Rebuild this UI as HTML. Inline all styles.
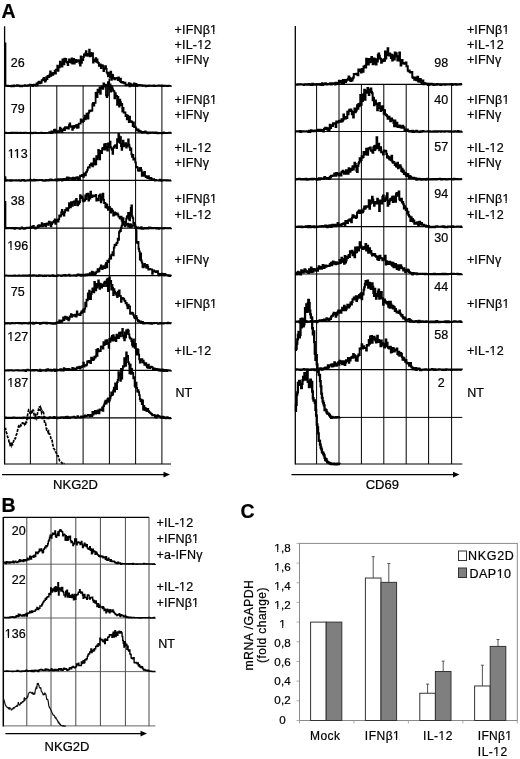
<!DOCTYPE html>
<html><head><meta charset="utf-8"><style>
html,body{margin:0;padding:0;background:#fff;width:520px;height:759px;overflow:hidden;font-family:"Liberation Sans", sans-serif;}
</style></head><body>
<svg width="520" height="759" viewBox="0 0 520 759" style="position:absolute;left:0;top:0;will-change:transform">
<line x1="4.6" y1="26.3" x2="4.6" y2="464.5" stroke="#000" stroke-width="1.3"/>
<line x1="30.4" y1="85.8" x2="30.4" y2="464.0" stroke="#000" stroke-width="1.0"/>
<line x1="56.8" y1="85.8" x2="56.8" y2="464.0" stroke="#000" stroke-width="1.0"/>
<line x1="83.1" y1="85.8" x2="83.1" y2="464.0" stroke="#000" stroke-width="1.0"/>
<line x1="109.4" y1="85.8" x2="109.4" y2="464.0" stroke="#000" stroke-width="1.0"/>
<line x1="135.6" y1="85.8" x2="135.6" y2="464.0" stroke="#000" stroke-width="1.0"/>
<line x1="161.9" y1="85.8" x2="161.9" y2="464.0" stroke="#000" stroke-width="1.0"/>
<line x1="4.6" y1="85.8" x2="171.0" y2="85.8" stroke="#000" stroke-width="1.3"/>
<line x1="4.6" y1="132.9" x2="171.0" y2="132.9" stroke="#000" stroke-width="1.3"/>
<line x1="4.6" y1="180.4" x2="171.0" y2="180.4" stroke="#000" stroke-width="1.3"/>
<line x1="4.6" y1="228.2" x2="171.0" y2="228.2" stroke="#000" stroke-width="1.3"/>
<line x1="4.6" y1="275.6" x2="171.0" y2="275.6" stroke="#000" stroke-width="1.3"/>
<line x1="4.6" y1="323.2" x2="171.0" y2="323.2" stroke="#000" stroke-width="1.3"/>
<line x1="4.6" y1="370.4" x2="171.0" y2="370.4" stroke="#000" stroke-width="1.3"/>
<line x1="4.6" y1="417.8" x2="171.0" y2="417.8" stroke="#000" stroke-width="1.3"/>
<line x1="4.6" y1="464.0" x2="171.0" y2="464.0" stroke="#000" stroke-width="1.2"/>
<line x1="2.0" y1="474.6" x2="165" y2="474.6" stroke="#000" stroke-width="1.2"/>
<polygon points="170,474.6 163.5,471.8 163.5,477.4" fill="#000"/>
<line x1="295.3" y1="26.0" x2="295.3" y2="464.5" stroke="#000" stroke-width="1.3"/>
<line x1="316.6" y1="84.4" x2="316.6" y2="464.0" stroke="#000" stroke-width="1.0"/>
<line x1="339.0" y1="84.4" x2="339.0" y2="464.0" stroke="#000" stroke-width="1.0"/>
<line x1="361.4" y1="84.4" x2="361.4" y2="464.0" stroke="#000" stroke-width="1.0"/>
<line x1="383.8" y1="84.4" x2="383.8" y2="464.0" stroke="#000" stroke-width="1.0"/>
<line x1="406.2" y1="84.4" x2="406.2" y2="464.0" stroke="#000" stroke-width="1.0"/>
<line x1="428.6" y1="84.4" x2="428.6" y2="464.0" stroke="#000" stroke-width="1.0"/>
<line x1="451.6" y1="84.4" x2="451.6" y2="464.0" stroke="#000" stroke-width="1.0"/>
<line x1="295.3" y1="84.4" x2="462.3" y2="84.4" stroke="#000" stroke-width="1.2"/>
<line x1="295.3" y1="131.5" x2="462.3" y2="131.5" stroke="#000" stroke-width="1.2"/>
<line x1="295.3" y1="179.2" x2="462.3" y2="179.2" stroke="#000" stroke-width="1.2"/>
<line x1="295.3" y1="226.7" x2="462.3" y2="226.7" stroke="#000" stroke-width="1.2"/>
<line x1="295.3" y1="274.0" x2="462.3" y2="274.0" stroke="#000" stroke-width="1.2"/>
<line x1="295.3" y1="321.7" x2="462.3" y2="321.7" stroke="#000" stroke-width="1.2"/>
<line x1="295.3" y1="369.6" x2="462.3" y2="369.6" stroke="#000" stroke-width="1.2"/>
<line x1="331" y1="417.4" x2="462.3" y2="417.4" stroke="#000" stroke-width="1.0"/>
<line x1="295.3" y1="464.0" x2="462.3" y2="464.0" stroke="#000" stroke-width="1.2"/>
<line x1="291.5" y1="474.6" x2="454" y2="474.6" stroke="#000" stroke-width="1.2"/>
<polygon points="459.5,474.6 453,471.8 453,477.4" fill="#000"/>
<path d="M4.60,85.63H5.25V85.85H5.90V85.94H6.55V85.91H7.20V85.65H7.85V86.03H8.50V85.97H9.15V85.97H9.80V85.97H10.45V86.05H11.10V86.31H11.75V85.67H12.40V85.83H13.05V86.25H13.70V85.48H14.35V85.89H15.00V85.61H15.65V85.77H16.30V85.91H16.95V85.21H17.60V85.49H18.25V85.37H18.90V85.76H19.55V85.62H20.20V86.35H20.85V85.62H21.50V86.40H22.15V85.64H22.80V85.86H23.45V85.74H24.10V85.68H24.75V85.19H25.40V85.73H26.05V85.73H26.70V85.65H27.35V85.81H28.00V85.17H28.65V85.36H29.30V85.13H29.95V84.56H30.60V85.44H31.25V84.80H31.90V84.94H32.55V86.21H33.20V84.86H33.85V84.64H34.50V85.20H35.15V85.22H35.80V85.57H36.45V83.42H37.10V85.27H37.75V83.21H38.40V81.83H39.05V81.63H39.70V83.37H40.35V82.65H41.00V82.91H41.65V80.03H42.30V80.41H42.95V79.08H43.60V77.78H44.25V79.95H44.90V81.65H45.55V80.44H46.20V77.06H46.85V79.16H47.50V75.91H48.15V76.69H48.80V77.05H49.45V74.70H50.10V71.33H50.75V75.85H51.40V74.14H52.05V73.12H52.70V74.88H53.35V72.91H54.00V73.65H54.65V70.66H55.30V73.53H55.95V69.54H56.60V69.79H57.25V65.57H57.90V70.80H58.55V67.39H59.20V67.24H59.85V61.64H60.50V65.19H61.15V63.39H61.80V66.51H62.45V59.37H63.10V63.23H63.75V64.37H64.40V58.57H65.05V61.65H65.70V58.79H66.35V61.79H67.00V62.71H67.65V65.22H68.30V62.11H68.95V59.49H69.60V62.10H70.25V60.16H70.90V62.61H71.55V58.39H72.20V63.53H72.85V60.96H73.50V58.96H74.15V63.69H74.80V59.89H75.45V59.79H76.10V62.12H76.75V60.62H77.40V61.09H78.05V60.23H78.70V60.60H79.35V63.36H80.00V65.64H80.65V56.45H81.30V62.74H81.95V59.73H82.60V60.14H83.25V57.02H83.90V54.39H84.55V55.63H85.20V53.48H85.85V51.19H86.50V55.13H87.15V55.74H87.80V53.94H88.45V54.80H89.10V49.65H89.75V56.39H90.40V52.96H91.05V53.63H91.70V55.86H92.35V53.13H93.00V62.63H93.65V60.08H94.30V61.13H94.95V59.34H95.60V58.04H96.25V61.91H96.90V59.50H97.55V62.48H98.20V62.97H98.85V65.84H99.50V64.47H100.15V64.43H100.80V68.02H101.45V65.31H102.10V65.17H102.75V66.03H103.40V71.08H104.05V68.81H104.70V68.31H105.35V66.27H106.00V68.89H106.65V72.33H107.30V73.63H107.95V76.37H108.60V72.72H109.25V75.42H109.90V77.28H110.55V71.67H111.20V79.80H111.85V74.61H112.50V75.04H113.15V78.60H113.80V77.99H114.45V79.34H115.10V78.67H115.75V78.44H116.40V78.24H117.05V77.84H117.70V80.20H118.35V77.29H119.00V79.93H119.65V81.45H120.30V78.68H120.95V82.15H121.60V82.68H122.25V82.00H122.90V82.05H123.55V83.06H124.20V83.37H124.85V82.68H125.50V85.25H126.15V84.88H126.80V84.53H127.45V85.06H128.10V85.18H128.75V83.09H129.40V86.40H130.05V83.68H130.70V85.25H131.35V84.37H132.00V85.77H132.65V85.64H133.30V85.49H133.95V83.38H134.60V85.75H135.25V85.34H135.90V83.93H136.55V86.03H137.20V85.10H137.85V84.81H138.50V85.46H139.15V84.99H139.80V85.47H140.45V85.18H141.10V85.03H141.75V85.05H142.40V85.93H143.05V85.71H143.70V85.42H144.35V85.51H145.00V85.41H145.65V86.40H146.30V85.85H146.95V85.78H147.60V86.22H148.25V85.51H148.90V85.38H149.55V85.58H150.20V85.80H150.85V85.70H151.50V85.67H152.15V85.83H152.80V85.66H153.45V85.48H154.10V86.01H154.75V85.74H155.40V85.75H156.05V85.97H156.70V85.94H157.35V85.53H158.00V85.62H158.65V85.45H159.30V85.50H159.95V85.87H160.60V85.70H161.25V85.62H161.90V85.49H162.55V86.12H163.20V85.76H163.85V85.89H164.50V85.81H165.15V85.64H165.80V85.91H166.45V85.85H167.10V86.06H167.75V85.93H168.40V85.60H169.05V85.78H169.70V85.78H170.35V85.78H171.00V85.61" fill="none" stroke="#000" stroke-width="1.8" stroke-linejoin="miter"/>
<path d="M4.60,132.78H5.25V132.59H5.90V132.99H6.55V133.01H7.20V132.85H7.85V132.96H8.50V133.16H9.15V133.06H9.80V133.01H10.45V133.00H11.10V132.77H11.75V133.04H12.40V132.65H13.05V132.85H13.70V132.83H14.35V132.64H15.00V132.88H15.65V133.15H16.30V132.85H16.95V132.72H17.60V132.89H18.25V133.03H18.90V132.93H19.55V132.90H20.20V132.69H20.85V132.98H21.50V132.97H22.15V133.10H22.80V133.12H23.45V133.00H24.10V132.65H24.75V132.68H25.40V132.74H26.05V132.94H26.70V132.78H27.35V133.10H28.00V132.94H28.65V132.95H29.30V133.01H29.95V132.95H30.60V132.69H31.25V133.27H31.90V133.12H32.55V133.13H33.20V132.79H33.85V132.62H34.50V132.67H35.15V132.74H35.80V133.03H36.45V133.04H37.10V133.12H37.75V133.22H38.40V132.98H39.05V132.95H39.70V132.85H40.35V132.85H41.00V132.73H41.65V132.98H42.30V132.95H42.95V132.84H43.60V132.78H44.25V132.97H44.90V133.05H45.55V132.91H46.20V132.94H46.85V132.82H47.50V132.86H48.15V132.86H48.80V132.67H49.45V132.16H50.10V132.55H50.75V133.06H51.40V131.42H52.05V132.96H52.70V131.52H53.35V131.44H54.00V129.98H54.65V129.73H55.30V132.24H55.95V130.74H56.60V132.21H57.25V131.42H57.90V131.36H58.55V132.05H59.20V130.61H59.85V127.61H60.50V128.85H61.15V131.26H61.80V132.19H62.45V130.15H63.10V129.45H63.75V128.52H64.40V130.21H65.05V127.21H65.70V127.30H66.35V128.44H67.00V127.93H67.65V127.07H68.30V128.49H68.95V125.21H69.60V123.46H70.25V126.09H70.90V126.81H71.55V126.41H72.20V129.75H72.85V126.24H73.50V127.90H74.15V125.99H74.80V126.96H75.45V125.53H76.10V125.27H76.75V127.94H77.40V124.81H78.05V127.63H78.70V123.58H79.35V123.57H80.00V123.67H80.65V119.32H81.30V119.86H81.95V121.87H82.60V121.80H83.25V121.10H83.90V118.56H84.55V115.59H85.20V119.26H85.85V117.74H86.50V113.74H87.15V115.56H87.80V118.67H88.45V112.92H89.10V110.59H89.75V111.41H90.40V110.37H91.05V110.73H91.70V110.63H92.35V104.03H93.00V102.83H93.65V105.51H94.30V102.90H94.95V102.92H95.60V92.88H96.25V92.63H96.90V97.01H97.55V89.66H98.20V92.47H98.85V90.40H99.50V87.42H100.15V93.79H100.80V88.42H101.45V86.35H102.10V87.27H102.75V88.75H103.40V83.32H104.05V86.52H104.70V86.27H105.35V84.69H106.00V95.29H106.65V97.00H107.30V95.34H107.95V82.09H108.60V85.42H109.25V84.63H109.90V84.48H110.55V91.50H111.20V86.16H111.85V87.36H112.50V89.35H113.15V90.97H113.80V91.30H114.45V98.28H115.10V93.10H115.75V95.71H116.40V96.01H117.05V104.89H117.70V96.97H118.35V101.76H119.00V106.55H119.65V99.74H120.30V102.19H120.95V105.00H121.60V103.79H122.25V111.35H122.90V107.98H123.55V112.57H124.20V112.34H124.85V112.48H125.50V116.16H126.15V114.98H126.80V119.35H127.45V115.63H128.10V117.74H128.75V122.22H129.40V116.56H130.05V121.95H130.70V121.05H131.35V121.59H132.00V122.12H132.65V126.03H133.30V122.44H133.95V126.76H134.60V127.17H135.25V127.12H135.90V128.66H136.55V130.47H137.20V129.81H137.85V129.45H138.50V131.46H139.15V130.64H139.80V131.09H140.45V131.50H141.10V132.04H141.75V132.85H142.40V131.91H143.05V131.94H143.70V132.60H144.35V132.47H145.00V131.52H145.65V132.29H146.30V132.06H146.95V133.08H147.60V133.35H148.25V132.91H148.90V132.30H149.55V133.04H150.20V132.33H150.85V132.82H151.50V132.30H152.15V132.28H152.80V132.33H153.45V132.88H154.10V132.68H154.75V133.07H155.40V132.51H156.05V133.10H156.70V132.74H157.35V133.32H158.00V133.24H158.65V132.87H159.30V132.97H159.95V133.01H160.60V133.07H161.25V132.88H161.90V133.23H162.55V132.84H163.20V132.51H163.85V133.04H164.50V132.96H165.15V133.15H165.80V133.08H166.45V132.97H167.10V132.95H167.75V132.94H168.40V132.80H169.05V132.70H169.70V132.77H170.35V132.89H171.00V132.56" fill="none" stroke="#000" stroke-width="1.8" stroke-linejoin="miter"/>
<path d="M4.60,180.49H5.25V180.73H5.90V180.56H6.55V180.24H7.20V180.32H7.85V180.56H8.50V180.42H9.15V180.63H9.80V180.10H10.45V180.80H11.10V180.76H11.75V180.17H12.40V180.37H13.05V180.31H13.70V180.35H14.35V180.61H15.00V180.32H15.65V180.23H16.30V180.55H16.95V180.69H17.60V180.33H18.25V180.49H18.90V180.12H19.55V180.65H20.20V180.93H20.85V180.57H21.50V180.43H22.15V179.99H22.80V180.41H23.45V180.01H24.10V180.70H24.75V180.95H25.40V180.59H26.05V180.53H26.70V180.58H27.35V180.26H28.00V180.48H28.65V180.47H29.30V180.39H29.95V179.66H30.60V180.44H31.25V180.49H31.90V180.14H32.55V180.47H33.20V180.58H33.85V179.73H34.50V180.63H35.15V180.21H35.80V180.02H36.45V180.43H37.10V180.14H37.75V180.24H38.40V180.06H39.05V180.15H39.70V179.97H40.35V180.16H41.00V179.99H41.65V179.89H42.30V180.69H42.95V180.33H43.60V180.44H44.25V180.88H44.90V180.50H45.55V180.27H46.20V179.89H46.85V180.58H47.50V180.47H48.15V180.66H48.80V179.90H49.45V180.10H50.10V179.44H50.75V180.45H51.40V179.65H52.05V180.06H52.70V180.45H53.35V180.27H54.00V180.18H54.65V180.36H55.30V179.39H55.95V180.07H56.60V180.51H57.25V180.43H57.90V179.20H58.55V180.35H59.20V180.14H59.85V179.45H60.50V179.23H61.15V179.82H61.80V180.60H62.45V179.97H63.10V178.97H63.75V179.54H64.40V180.14H65.05V179.32H65.70V178.64H66.35V179.57H67.00V177.41H67.65V179.20H68.30V177.54H68.95V178.50H69.60V178.90H70.25V178.59H70.90V178.23H71.55V178.71H72.20V179.85H72.85V177.64H73.50V177.81H74.15V178.72H74.80V178.99H75.45V178.04H76.10V177.42H76.75V178.64H77.40V177.07H78.05V179.78H78.70V178.77H79.35V179.14H80.00V175.75H80.65V176.10H81.30V176.19H81.95V174.89H82.60V175.48H83.25V176.85H83.90V173.52H84.55V173.56H85.20V175.23H85.85V172.34H86.50V171.64H87.15V169.82H87.80V167.67H88.45V167.20H89.10V167.50H89.75V164.97H90.40V165.37H91.05V163.51H91.70V163.51H92.35V166.43H93.00V163.75H93.65V158.77H94.30V160.62H94.95V164.70H95.60V164.04H96.25V156.15H96.90V159.31H97.55V157.38H98.20V149.99H98.85V156.08H99.50V159.35H100.15V150.99H100.80V150.86H101.45V153.17H102.10V148.50H102.75V147.89H103.40V149.55H104.05V144.52H104.70V149.71H105.35V143.92H106.00V147.11H106.65V148.61H107.30V150.63H107.95V143.40H108.60V146.72H109.25V147.22H109.90V141.69H110.55V147.19H111.20V148.53H111.85V149.74H112.50V153.96H113.15V148.15H113.80V146.95H114.45V145.97H115.10V145.20H115.75V145.82H116.40V148.20H117.05V139.14H117.70V141.77H118.35V133.89H119.00V136.32H119.65V142.89H120.30V137.22H120.95V146.03H121.60V149.92H122.25V143.89H122.90V140.57H123.55V146.35H124.20V144.38H124.85V145.33H125.50V143.07H126.15V147.60H126.80V146.03H127.45V145.27H128.10V139.38H128.75V144.57H129.40V147.37H130.05V150.09H130.70V148.35H131.35V154.31H132.00V156.91H132.65V154.83H133.30V159.54H133.95V158.87H134.60V158.36H135.25V162.41H135.90V167.01H136.55V166.78H137.20V167.58H137.85V170.31H138.50V170.96H139.15V170.76H139.80V168.16H140.45V167.92H141.10V170.17H141.75V175.82H142.40V174.99H143.05V172.33H143.70V175.96H144.35V172.00H145.00V175.89H145.65V177.12H146.30V176.31H146.95V177.70H147.60V178.16H148.25V176.13H148.90V178.00H149.55V178.80H150.20V178.26H150.85V177.89H151.50V180.11H152.15V179.49H152.80V179.21H153.45V179.26H154.10V179.85H154.75V180.50H155.40V179.83H156.05V180.35H156.70V180.38H157.35V180.28H158.00V180.46H158.65V180.52H159.30V180.15H159.95V179.62H160.60V180.66H161.25V180.85H161.90V180.54H162.55V180.10H163.20V180.37H163.85V180.24H164.50V180.03H165.15V180.14H165.80V180.25H166.45V180.50H167.10V180.13H167.75V180.61H168.40V180.39H169.05V180.61H169.70V180.56H170.35V180.42H171.00V180.40" fill="none" stroke="#000" stroke-width="1.8" stroke-linejoin="miter"/>
<path d="M4.60,228.37H5.25V228.00H5.90V228.32H6.55V228.01H7.20V228.42H7.85V227.94H8.50V228.10H9.15V228.12H9.80V227.78H10.45V228.42H11.10V227.85H11.75V227.89H12.40V228.06H13.05V228.41H13.70V228.02H14.35V228.80H15.00V228.27H15.65V227.79H16.30V228.47H16.95V228.32H17.60V228.05H18.25V228.22H18.90V228.45H19.55V228.80H20.20V228.41H20.85V228.44H21.50V227.39H22.15V228.09H22.80V228.16H23.45V228.80H24.10V228.76H24.75V228.12H25.40V228.26H26.05V227.97H26.70V227.65H27.35V227.95H28.00V227.72H28.65V227.97H29.30V228.03H29.95V227.47H30.60V227.98H31.25V226.74H31.90V227.27H32.55V227.39H33.20V225.87H33.85V227.71H34.50V227.82H35.15V228.48H35.80V227.32H36.45V227.69H37.10V227.59H37.75V225.61H38.40V226.86H39.05V225.08H39.70V226.24H40.35V226.34H41.00V225.66H41.65V223.21H42.30V226.45H42.95V225.15H43.60V225.72H44.25V223.81H44.90V223.93H45.55V226.43H46.20V223.77H46.85V223.35H47.50V223.28H48.15V224.77H48.80V221.64H49.45V223.02H50.10V222.16H50.75V226.25H51.40V224.22H52.05V222.62H52.70V222.50H53.35V221.56H54.00V220.95H54.65V219.48H55.30V223.76H55.95V220.10H56.60V219.74H57.25V220.24H57.90V221.65H58.55V219.14H59.20V215.48H59.85V216.61H60.50V215.73H61.15V212.51H61.80V209.98H62.45V214.43H63.10V212.21H63.75V215.69H64.40V212.32H65.05V210.02H65.70V210.29H66.35V208.05H67.00V208.09H67.65V210.64H68.30V208.11H68.95V203.15H69.60V203.61H70.25V207.23H70.90V202.21H71.55V203.28H72.20V205.96H72.85V202.18H73.50V201.77H74.15V201.37H74.80V205.05H75.45V200.46H76.10V198.84H76.75V201.82H77.40V205.32H78.05V201.31H78.70V203.76H79.35V202.22H80.00V195.26H80.65V197.99H81.30V196.43H81.95V197.36H82.60V200.71H83.25V201.28H83.90V199.45H84.55V200.67H85.20V195.40H85.85V199.12H86.50V193.84H87.15V195.88H87.80V193.58H88.45V200.53H89.10V196.00H89.75V198.55H90.40V191.70H91.05V195.39H91.70V197.09H92.35V195.28H93.00V195.93H93.65V196.31H94.30V196.22H94.95V195.76H95.60V194.98H96.25V200.69H96.90V198.55H97.55V199.27H98.20V200.31H98.85V195.92H99.50V195.04H100.15V194.32H100.80V202.38H101.45V196.33H102.10V199.33H102.75V193.70H103.40V199.83H104.05V203.20H104.70V202.81H105.35V207.40H106.00V204.14H106.65V204.97H107.30V208.10H107.95V209.74H108.60V207.66H109.25V206.88H109.90V208.30H110.55V212.53H111.20V208.89H111.85V210.08H112.50V211.07H113.15V215.68H113.80V214.85H114.45V212.49H115.10V212.96H115.75V214.55H116.40V213.91H117.05V213.48H117.70V214.58H118.35V216.54H119.00V216.71H119.65V218.40H120.30V218.49H120.95V216.68H121.60V220.55H122.25V220.99H122.90V218.09H123.55V221.96H124.20V221.78H124.85V221.84H125.50V224.66H126.15V224.32H126.80V224.93H127.45V223.77H128.10V226.51H128.75V225.24H129.40V224.27H130.05V227.02H130.70V224.46H131.35V226.91H132.00V225.42H132.65V225.43H133.30V225.71H133.95V225.97H134.60V225.71H135.25V227.79H135.90V227.83H136.55V227.30H137.20V228.15H137.85V227.45H138.50V228.31H139.15V227.91H139.80V228.00H140.45V228.55H141.10V227.22H141.75V228.80H142.40V228.80H143.05V228.49H143.70V228.33H144.35V227.91H145.00V228.56H145.65V228.11H146.30V228.07H146.95V227.89H147.60V228.60H148.25V228.40H148.90V227.35H149.55V228.10H150.20V227.75H150.85V228.46H151.50V227.96H152.15V228.23H152.80V228.43H153.45V228.22H154.10V227.94H154.75V228.14H155.40V227.90H156.05V228.62H156.70V228.49H157.35V227.85H158.00V228.00H158.65V228.79H159.30V228.41H159.95V228.17H160.60V228.43H161.25V228.30H161.90V228.38H162.55V228.13H163.20V228.53H163.85V228.25H164.50V227.98H165.15V228.19H165.80V228.15H166.45V228.22H167.10V228.26H167.75V228.23H168.40V228.07H169.05V228.25H169.70V228.11H170.35V228.46H171.00V228.03" fill="none" stroke="#000" stroke-width="1.8" stroke-linejoin="miter"/>
<path d="M4.60,275.68H5.25V275.69H5.90V275.51H6.55V275.59H7.20V275.60H7.85V275.61H8.50V275.95H9.15V275.56H9.80V275.56H10.45V275.53H11.10V275.79H11.75V275.54H12.40V275.59H13.05V275.75H13.70V275.73H14.35V275.42H15.00V275.93H15.65V275.66H16.30V275.79H16.95V275.67H17.60V275.94H18.25V275.55H18.90V275.50H19.55V275.71H20.20V275.91H20.85V275.65H21.50V275.84H22.15V275.97H22.80V275.35H23.45V275.91H24.10V275.85H24.75V275.49H25.40V275.58H26.05V275.50H26.70V275.80H27.35V275.49H28.00V275.78H28.65V275.95H29.30V275.22H29.95V275.72H30.60V275.60H31.25V275.51H31.90V275.74H32.55V275.61H33.20V275.26H33.85V275.49H34.50V275.65H35.15V275.47H35.80V275.34H36.45V276.20H37.10V276.09H37.75V276.05H38.40V275.71H39.05V275.10H39.70V275.56H40.35V275.77H41.00V275.49H41.65V275.46H42.30V275.74H42.95V276.20H43.60V275.78H44.25V275.74H44.90V275.47H45.55V276.11H46.20V275.71H46.85V275.56H47.50V275.46H48.15V275.37H48.80V275.64H49.45V276.20H50.10V275.64H50.75V275.82H51.40V275.41H52.05V275.79H52.70V275.23H53.35V276.20H54.00V275.56H54.65V275.91H55.30V275.77H55.95V276.20H56.60V275.90H57.25V275.92H57.90V275.14H58.55V275.34H59.20V275.35H59.85V275.38H60.50V275.41H61.15V276.03H61.80V275.61H62.45V275.56H63.10V275.12H63.75V275.06H64.40V274.87H65.05V275.82H65.70V275.46H66.35V275.72H67.00V275.09H67.65V275.10H68.30V275.45H68.95V274.59H69.60V275.77H70.25V275.48H70.90V275.55H71.55V275.50H72.20V275.72H72.85V275.36H73.50V275.48H74.15V275.17H74.80V275.37H75.45V275.61H76.10V275.83H76.75V275.17H77.40V274.60H78.05V274.30H78.70V274.99H79.35V274.75H80.00V275.37H80.65V275.86H81.30V274.67H81.95V275.67H82.60V275.63H83.25V274.59H83.90V274.89H84.55V275.53H85.20V274.72H85.85V274.51H86.50V275.43H87.15V274.43H87.80V274.18H88.45V274.87H89.10V274.21H89.75V273.19H90.40V274.85H91.05V274.61H91.70V271.73H92.35V274.19H93.00V272.26H93.65V273.45H94.30V273.75H94.95V274.50H95.60V273.00H96.25V271.54H96.90V271.86H97.55V269.18H98.20V271.50H98.85V270.82H99.50V268.55H100.15V267.73H100.80V265.31H101.45V267.41H102.10V268.99H102.75V267.46H103.40V266.07H104.05V266.31H104.70V268.18H105.35V264.69H106.00V262.81H106.65V267.32H107.30V260.59H107.95V262.02H108.60V261.66H109.25V258.79H109.90V256.52H110.55V258.53H111.20V254.65H111.85V254.77H112.50V252.12H113.15V255.32H113.80V247.64H114.45V245.27H115.10V244.69H115.75V245.05H116.40V243.09H117.05V242.53H117.70V238.60H118.35V239.95H119.00V232.24H119.65V230.37H120.30V231.14H120.95V227.76H121.60V225.68H122.25V223.02H122.90V222.71H123.55V224.50H124.20V224.82H124.85V226.02H125.50V221.90H126.15V218.62H126.80V216.76H127.45V215.87H128.10V212.85H128.75V218.92H129.40V220.32H130.05V212.67H130.70V213.37H131.35V205.49H132.00V216.47H132.65V218.14H133.30V223.81H133.95V222.98H134.60V225.02H135.25V226.65H135.90V230.03H136.55V242.18H137.20V243.09H137.85V242.00H138.50V248.76H139.15V251.37H139.80V259.60H140.45V253.28H141.10V260.48H141.75V262.55H142.40V266.74H143.05V267.40H143.70V265.37H144.35V263.97H145.00V265.71H145.65V266.71H146.30V267.73H146.95V264.98H147.60V266.55H148.25V269.61H148.90V269.28H149.55V268.99H150.20V269.29H150.85V269.47H151.50V269.30H152.15V273.83H152.80V270.59H153.45V270.48H154.10V271.32H154.75V271.15H155.40V272.13H156.05V271.13H156.70V272.16H157.35V271.24H158.00V273.75H158.65V275.38H159.30V273.98H159.95V274.22H160.60V275.01H161.25V275.11H161.90V273.72H162.55V273.92H163.20V274.30H163.85V275.43H164.50V273.98H165.15V274.50H165.80V274.82H166.45V275.08H167.10V275.28H167.75V275.06H168.40V275.92H169.05V275.06H169.70V276.20H170.35V275.61H171.00V275.71" fill="none" stroke="#000" stroke-width="1.8" stroke-linejoin="miter"/>
<path d="M4.60,323.19H5.25V323.39H5.90V323.51H6.55V323.20H7.20V323.17H7.85V323.38H8.50V323.22H9.15V323.35H9.80V323.49H10.45V323.32H11.10V323.42H11.75V322.82H12.40V323.43H13.05V323.22H13.70V323.08H14.35V323.23H15.00V323.03H15.65V323.03H16.30V322.85H16.95V323.13H17.60V322.99H18.25V323.10H18.90V323.44H19.55V323.28H20.20V322.99H20.85V323.38H21.50V323.50H22.15V323.20H22.80V323.26H23.45V323.21H24.10V322.97H24.75V323.43H25.40V323.27H26.05V323.11H26.70V323.10H27.35V323.07H28.00V323.51H28.65V323.07H29.30V322.64H29.95V323.22H30.60V323.43H31.25V323.37H31.90V322.89H32.55V322.70H33.20V323.77H33.85V322.89H34.50V323.24H35.15V323.16H35.80V322.61H36.45V323.11H37.10V322.90H37.75V322.96H38.40V323.07H39.05V323.17H39.70V323.80H40.35V322.82H41.00V323.51H41.65V323.13H42.30V322.96H42.95V322.59H43.60V323.08H44.25V322.73H44.90V323.21H45.55V323.23H46.20V322.65H46.85V323.52H47.50V323.01H48.15V323.07H48.80V323.14H49.45V322.84H50.10V323.37H50.75V323.61H51.40V323.06H52.05V323.43H52.70V323.80H53.35V323.48H54.00V323.13H54.65V323.73H55.30V323.23H55.95V323.02H56.60V322.30H57.25V322.91H57.90V322.10H58.55V322.51H59.20V320.44H59.85V320.66H60.50V322.47H61.15V322.40H61.80V320.75H62.45V320.34H63.10V317.30H63.75V320.10H64.40V318.63H65.05V316.64H65.70V317.68H66.35V317.24H67.00V318.99H67.65V317.95H68.30V320.38H68.95V318.79H69.60V316.51H70.25V316.81H70.90V314.03H71.55V316.73H72.20V314.86H72.85V315.52H73.50V315.80H74.15V315.43H74.80V314.77H75.45V316.55H76.10V316.57H76.75V311.29H77.40V314.31H78.05V314.93H78.70V314.04H79.35V314.80H80.00V315.22H80.65V312.98H81.30V311.35H81.95V312.53H82.60V310.37H83.25V309.33H83.90V311.92H84.55V308.71H85.20V302.69H85.85V306.35H86.50V299.74H87.15V300.28H87.80V293.42H88.45V299.16H89.10V290.75H89.75V295.44H90.40V299.07H91.05V294.22H91.70V291.91H92.35V288.28H93.00V289.65H93.65V292.44H94.30V282.00H94.95V284.58H95.60V290.37H96.25V283.81H96.90V287.71H97.55V285.52H98.20V280.48H98.85V283.22H99.50V288.79H100.15V283.99H100.80V285.50H101.45V287.65H102.10V284.30H102.75V284.72H103.40V286.14H104.05V282.56H104.70V281.77H105.35V282.81H106.00V286.09H106.65V279.95H107.30V278.74H107.95V291.07H108.60V285.50H109.25V277.29H109.90V283.11H110.55V281.00H111.20V289.66H111.85V284.92H112.50V287.97H113.15V295.19H113.80V289.10H114.45V291.53H115.10V292.89H115.75V293.95H116.40V295.41H117.05V297.08H117.70V291.67H118.35V295.49H119.00V290.36H119.65V295.83H120.30V296.07H120.95V301.87H121.60V298.84H122.25V297.95H122.90V298.90H123.55V298.59H124.20V300.53H124.85V300.98H125.50V303.38H126.15V302.98H126.80V305.23H127.45V308.32H128.10V304.74H128.75V306.42H129.40V306.37H130.05V313.56H130.70V313.85H131.35V312.60H132.00V313.46H132.65V313.16H133.30V315.06H133.95V316.74H134.60V318.05H135.25V318.46H135.90V315.89H136.55V318.08H137.20V319.95H137.85V321.47H138.50V320.56H139.15V321.88H139.80V321.76H140.45V321.47H141.10V322.84H141.75V321.82H142.40V321.88H143.05V323.58H143.70V323.50H144.35V323.00H145.00V323.44H145.65V322.78H146.30V322.99H146.95V323.26H147.60V323.30H148.25V323.40H148.90V322.79H149.55V323.56H150.20V322.89H150.85V323.23H151.50V323.80H152.15V323.37H152.80V323.08H153.45V323.31H154.10V322.97H154.75V322.97H155.40V322.92H156.05V323.05H156.70V323.16H157.35V323.35H158.00V323.75H158.65V323.33H159.30V323.28H159.95V322.96H160.60V323.54H161.25V323.29H161.90V323.31H162.55V323.30H163.20V323.64H163.85V323.16H164.50V323.19H165.15V323.22H165.80V323.20H166.45V323.30H167.10V323.28H167.75V322.69H168.40V323.03H169.05V323.08H169.70V323.30H170.35V323.15H171.00V323.30" fill="none" stroke="#000" stroke-width="1.8" stroke-linejoin="miter"/>
<path d="M4.60,370.53H5.25V370.45H5.90V370.48H6.55V370.38H7.20V370.56H7.85V370.15H8.50V370.60H9.15V370.36H9.80V370.38H10.45V370.22H11.10V370.12H11.75V370.33H12.40V370.55H13.05V370.47H13.70V370.58H14.35V370.35H15.00V370.44H15.65V370.37H16.30V370.17H16.95V370.39H17.60V370.06H18.25V370.62H18.90V370.39H19.55V370.43H20.20V370.56H20.85V370.65H21.50V370.39H22.15V370.38H22.80V370.15H23.45V370.69H24.10V370.16H24.75V370.09H25.40V371.00H26.05V370.30H26.70V370.35H27.35V369.71H28.00V370.18H28.65V370.28H29.30V370.16H29.95V370.23H30.60V370.32H31.25V370.49H31.90V370.69H32.55V369.97H33.20V369.94H33.85V370.54H34.50V370.41H35.15V370.06H35.80V369.88H36.45V370.11H37.10V370.41H37.75V370.64H38.40V370.79H39.05V370.68H39.70V369.74H40.35V371.00H41.00V370.60H41.65V370.26H42.30V370.22H42.95V370.64H43.60V370.07H44.25V370.08H44.90V370.24H45.55V370.78H46.20V369.54H46.85V370.60H47.50V369.27H48.15V369.80H48.80V370.29H49.45V370.66H50.10V369.60H50.75V370.64H51.40V370.76H52.05V370.00H52.70V370.12H53.35V370.23H54.00V369.43H54.65V371.00H55.30V370.57H55.95V369.67H56.60V370.53H57.25V370.34H57.90V369.86H58.55V369.92H59.20V370.30H59.85V369.49H60.50V369.20H61.15V370.69H61.80V369.91H62.45V369.41H63.10V370.55H63.75V368.25H64.40V368.84H65.05V369.81H65.70V369.50H66.35V369.52H67.00V368.99H67.65V368.94H68.30V369.02H68.95V369.13H69.60V369.76H70.25V369.92H70.90V369.58H71.55V370.06H72.20V367.95H72.85V368.95H73.50V368.30H74.15V370.20H74.80V368.74H75.45V369.22H76.10V368.73H76.75V367.70H77.40V367.24H78.05V368.15H78.70V368.09H79.35V366.63H80.00V368.62H80.65V366.58H81.30V367.12H81.95V366.25H82.60V366.63H83.25V362.59H83.90V366.63H84.55V365.53H85.20V365.25H85.85V365.69H86.50V364.67H87.15V361.49H87.80V362.42H88.45V360.98H89.10V361.17H89.75V362.17H90.40V363.02H91.05V357.63H91.70V357.74H92.35V359.54H93.00V360.08H93.65V359.02H94.30V356.64H94.95V357.51H95.60V356.23H96.25V349.91H96.90V355.79H97.55V348.95H98.20V351.31H98.85V350.46H99.50V350.60H100.15V351.04H100.80V346.60H101.45V346.40H102.10V347.01H102.75V348.68H103.40V342.26H104.05V344.98H104.70V343.37H105.35V340.39H106.00V344.02H106.65V340.27H107.30V342.86H107.95V343.10H108.60V347.88H109.25V338.81H109.90V341.91H110.55V339.50H111.20V337.37H111.85V335.98H112.50V340.57H113.15V335.26H113.80V339.61H114.45V337.48H115.10V340.42H115.75V341.12H116.40V334.73H117.05V336.21H117.70V338.22H118.35V338.06H119.00V332.58H119.65V336.17H120.30V336.31H120.95V332.40H121.60V332.74H122.25V328.86H122.90V335.84H123.55V337.92H124.20V340.43H124.85V332.45H125.50V337.40H126.15V330.48H126.80V333.96H127.45V329.55H128.10V330.57H128.75V334.36H129.40V337.34H130.05V338.51H130.70V338.55H131.35V341.00H132.00V344.74H132.65V346.68H133.30V339.45H133.95V345.18H134.60V347.93H135.25V343.80H135.90V351.89H136.55V354.54H137.20V349.08H137.85V350.02H138.50V354.64H139.15V359.25H139.80V362.72H140.45V359.39H141.10V359.65H141.75V359.06H142.40V362.33H143.05V360.75H143.70V362.77H144.35V364.82H145.00V364.12H145.65V363.27H146.30V365.66H146.95V367.20H147.60V367.78H148.25V364.70H148.90V367.72H149.55V368.00H150.20V367.37H150.85V366.65H151.50V367.19H152.15V367.30H152.80V369.94H153.45V368.70H154.10V368.38H154.75V369.07H155.40V370.02H156.05V368.97H156.70V369.84H157.35V369.83H158.00V369.14H158.65V370.70H159.30V369.31H159.95V370.57H160.60V370.76H161.25V369.67H161.90V369.51H162.55V369.66H163.20V371.00H163.85V370.11H164.50V369.97H165.15V370.87H165.80V369.96H166.45V371.00H167.10V370.11H167.75V370.50H168.40V370.44H169.05V370.53H169.70V370.68H170.35V370.61H171.00V370.24" fill="none" stroke="#000" stroke-width="1.8" stroke-linejoin="miter"/>
<path d="M4.60,417.86H5.25V417.51H5.90V417.80H6.55V418.08H7.20V417.56H7.85V417.90H8.50V417.70H9.15V418.07H9.80V417.72H10.45V417.69H11.10V418.10H11.75V418.04H12.40V417.75H13.05V417.45H13.70V417.52H14.35V417.94H15.00V417.95H15.65V417.57H16.30V418.10H16.95V417.95H17.60V417.72H18.25V417.79H18.90V417.86H19.55V417.70H20.20V417.99H20.85V417.80H21.50V417.75H22.15V418.05H22.80V417.94H23.45V417.47H24.10V417.82H24.75V417.55H25.40V417.84H26.05V417.91H26.70V417.47H27.35V418.07H28.00V418.30H28.65V417.93H29.30V417.52H29.95V417.77H30.60V417.88H31.25V417.93H31.90V417.95H32.55V417.60H33.20V417.68H33.85V418.06H34.50V418.40H35.15V417.96H35.80V417.86H36.45V418.03H37.10V418.03H37.75V417.81H38.40V416.96H39.05V417.57H39.70V417.49H40.35V417.36H41.00V417.24H41.65V417.36H42.30V418.40H42.95V417.92H43.60V417.75H44.25V417.23H44.90V417.54H45.55V417.84H46.20V417.69H46.85V417.73H47.50V418.40H48.15V418.37H48.80V417.94H49.45V417.26H50.10V417.87H50.75V417.37H51.40V417.51H52.05V417.47H52.70V417.92H53.35V418.20H54.00V416.87H54.65V418.14H55.30V417.62H55.95V417.85H56.60V417.46H57.25V418.40H57.90V417.73H58.55V418.04H59.20V417.28H59.85V418.06H60.50V417.69H61.15V417.23H61.80V417.51H62.45V417.31H63.10V417.21H63.75V418.20H64.40V417.69H65.05V417.35H65.70V416.79H66.35V418.01H67.00V416.75H67.65V417.33H68.30V417.07H68.95V418.22H69.60V418.06H70.25V417.30H70.90V417.22H71.55V417.27H72.20V417.39H72.85V417.44H73.50V416.66H74.15V416.99H74.80V417.28H75.45V417.80H76.10V417.52H76.75V417.30H77.40V416.09H78.05V417.38H78.70V417.57H79.35V417.57H80.00V417.71H80.65V416.71H81.30V416.46H81.95V417.45H82.60V416.39H83.25V417.04H83.90V416.58H84.55V415.38H85.20V416.44H85.85V416.17H86.50V415.95H87.15V415.73H87.80V414.85H88.45V415.32H89.10V415.18H89.75V416.38H90.40V414.90H91.05V415.05H91.70V416.15H92.35V411.90H93.00V414.62H93.65V413.25H94.30V412.21H94.95V410.96H95.60V413.66H96.25V412.67H96.90V411.64H97.55V410.40H98.20V413.01H98.85V413.39H99.50V409.29H100.15V410.03H100.80V410.07H101.45V410.28H102.10V407.37H102.75V410.75H103.40V406.01H104.05V404.34H104.70V402.26H105.35V400.60H106.00V403.54H106.65V401.67H107.30V399.38H107.95V398.29H108.60V401.83H109.25V400.71H109.90V398.45H110.55V395.83H111.20V392.52H111.85V395.05H112.50V394.42H113.15V390.29H113.80V387.70H114.45V391.52H115.10V383.40H115.75V385.60H116.40V389.21H117.05V382.14H117.70V379.88H118.35V372.25H119.00V374.77H119.65V375.71H120.30V380.77H120.95V368.88H121.60V378.69H122.25V369.09H122.90V366.15H123.55V366.64H124.20V358.25H124.85V362.71H125.50V365.77H126.15V352.48H126.80V356.72H127.45V355.97H128.10V362.05H128.75V363.73H129.40V373.28H130.05V364.61H130.70V373.75H131.35V368.98H132.00V373.16H132.65V372.89H133.30V378.41H133.95V377.10H134.60V385.91H135.25V387.19H135.90V382.77H136.55V387.90H137.20V391.57H137.85V390.10H138.50V392.03H139.15V395.10H139.80V399.10H140.45V401.04H141.10V399.69H141.75V404.05H142.40V400.49H143.05V409.61H143.70V405.92H144.35V410.17H145.00V407.87H145.65V408.83H146.30V410.81H146.95V411.15H147.60V408.92H148.25V410.93H148.90V412.08H149.55V412.43H150.20V413.12H150.85V413.56H151.50V414.11H152.15V415.47H152.80V415.04H153.45V415.13H154.10V414.84H154.75V417.12H155.40V415.80H156.05V417.57H156.70V415.87H157.35V415.24H158.00V415.98H158.65V416.10H159.30V416.37H159.95V416.78H160.60V416.97H161.25V418.08H161.90V416.74H162.55V416.75H163.20V416.84H163.85V418.22H164.50V417.42H165.15V417.69H165.80V418.34H166.45V417.73H167.10V417.10H167.75V417.88H168.40V418.14H169.05V418.40H169.70V418.27H170.35V417.87H171.00V417.83" fill="none" stroke="#000" stroke-width="1.8" stroke-linejoin="miter"/>
<path d="M4.60,428.62 L5.10,429.37 L5.60,428.89 L6.10,431.60 L6.60,433.04 L7.10,434.59 L7.60,437.02 L8.10,437.80 L8.60,438.82 L9.10,442.83 L9.60,442.36 L10.10,444.71 L10.60,444.02 L11.10,445.31 L11.60,441.97 L12.10,443.72 L12.60,444.55 L13.10,442.96 L13.60,441.23 L14.10,438.98 L14.60,438.59 L15.10,438.90 L15.60,438.04 L16.10,435.08 L16.60,434.48 L17.10,432.55 L17.60,430.22 L18.10,428.05 L18.60,426.14 L19.10,426.68 L19.60,425.73 L20.10,426.26 L20.60,425.00 L21.10,425.40 L21.60,424.10 L22.10,424.32 L22.60,422.12 L23.10,424.16 L23.60,423.52 L24.10,423.41 L24.60,424.37 L25.10,423.16 L25.60,423.64 L26.10,421.89 L26.60,422.10 L27.10,418.58 L27.60,414.85 L28.10,412.37 L28.60,409.96 L29.10,410.51 L29.60,410.63 L30.10,413.86 L30.60,411.44 L31.10,414.11 L31.60,411.77 L32.10,410.25 L32.60,411.33 L33.10,410.20 L33.60,410.92 L34.10,414.92 L34.60,415.62 L35.10,417.18 L35.60,415.47 L36.10,417.06 L36.60,418.21 L37.10,415.04 L37.60,412.94 L38.10,411.29 L38.60,409.14 L39.10,409.26 L39.60,406.26 L40.10,410.90 L40.60,407.68 L41.10,408.85 L41.60,412.41 L42.10,411.19 L42.60,412.34 L43.10,412.13 L43.60,412.90 L44.10,417.53 L44.60,422.88 L45.10,423.73 L45.60,423.54 L46.10,427.20 L46.60,429.69 L47.10,429.33 L47.60,430.70 L48.10,432.24 L48.60,431.34 L49.10,433.90 L49.60,433.84 L50.10,436.16 L50.60,436.76 L51.10,439.50 L51.60,439.52 L52.10,440.38 L52.60,444.11 L53.10,445.69 L53.60,448.50 L54.10,448.77 L54.60,449.61 L55.10,450.22 L55.60,451.82 L56.10,452.52 L56.60,453.67 L57.10,455.53 L57.60,455.66 L58.10,455.79 L58.60,457.54 L59.10,458.93 L59.60,460.85 L60.10,461.14 L60.60,461.45 L61.10,462.14 L61.60,462.36 L62.10,463.36 L62.60,463.35 L63.10,463.62 L63.60,464.05 L64.10,463.51 L64.60,463.48" fill="none" stroke="#000" stroke-width="1.7" stroke-dasharray="3 1.2"/>
<line x1="5.6" y1="42.5" x2="5.6" y2="85.8" stroke="#000" stroke-width="1.5"/>
<line x1="5.6" y1="201.0" x2="5.6" y2="228.2" stroke="#000" stroke-width="1.5"/>
<line x1="5.6" y1="176.3" x2="5.6" y2="180.4" stroke="#000" stroke-width="1.5"/>
<line x1="109.3" y1="78.5" x2="109.3" y2="90" stroke="#000" stroke-width="1.6"/>
<line x1="130.6" y1="207" x2="130.6" y2="216" stroke="#000" stroke-width="1.5"/>
<path d="M295.30,84.59H295.95V84.54H296.60V84.64H297.25V84.40H297.90V84.59H298.55V84.37H299.20V84.33H299.85V84.41H300.50V84.31H301.15V84.49H301.80V84.45H302.45V84.52H303.10V84.45H303.75V84.93H304.40V84.43H305.05V84.27H305.70V84.52H306.35V84.27H307.00V84.71H307.65V84.57H308.30V84.74H308.95V84.03H309.60V84.42H310.25V84.80H310.90V85.00H311.55V85.00H312.20V83.85H312.85V84.58H313.50V84.71H314.15V84.28H314.80V84.81H315.45V84.44H316.10V84.70H316.75V84.07H317.40V84.25H318.05V84.48H318.70V84.44H319.35V84.85H320.00V83.95H320.65V84.35H321.30V84.95H321.95V83.35H322.60V85.00H323.25V84.10H323.90V84.18H324.55V84.35H325.20V83.30H325.85V83.63H326.50V84.58H327.15V83.89H327.80V84.16H328.45V84.26H329.10V83.93H329.75V83.56H330.40V83.27H331.05V84.52H331.70V83.76H332.35V83.97H333.00V83.36H333.65V83.15H334.30V84.05H334.95V84.62H335.60V82.84H336.25V83.38H336.90V83.27H337.55V82.90H338.20V83.24H338.85V80.76H339.50V81.35H340.15V82.29H340.80V81.12H341.45V83.02H342.10V82.69H342.75V79.89H343.40V83.10H344.05V81.28H344.70V80.09H345.35V81.98H346.00V80.86H346.65V79.85H347.30V79.75H347.95V78.68H348.60V76.50H349.25V78.02H349.90V80.32H350.55V81.07H351.20V78.48H351.85V80.43H352.50V78.38H353.15V77.54H353.80V73.89H354.45V74.26H355.10V74.15H355.75V74.03H356.40V73.80H357.05V74.52H357.70V75.20H358.35V69.53H359.00V71.00H359.65V69.64H360.30V70.98H360.95V72.58H361.60V69.06H362.25V70.37H362.90V71.80H363.55V66.52H364.20V67.61H364.85V65.82H365.50V67.50H366.15V58.64H366.80V63.11H367.45V62.67H368.10V64.46H368.75V58.89H369.40V62.13H370.05V59.86H370.70V59.35H371.35V56.96H372.00V61.69H372.65V64.24H373.30V63.15H373.95V58.57H374.60V59.22H375.25V63.81H375.90V64.45H376.55V59.30H377.20V61.47H377.85V55.08H378.50V53.47H379.15V55.73H379.80V58.38H380.45V58.79H381.10V62.70H381.75V61.50H382.40V59.92H383.05V61.11H383.70V59.25H384.35V60.76H385.00V51.57H385.65V58.52H386.30V52.05H386.95V52.24H387.60V48.22H388.25V54.96H388.90V55.46H389.55V53.47H390.20V54.46H390.85V57.94H391.50V54.79H392.15V60.39H392.80V57.00H393.45V55.54H394.10V59.39H394.75V52.62H395.40V56.49H396.05V53.35H396.70V56.18H397.35V60.50H398.00V57.40H398.65V60.57H399.30V52.40H399.95V60.75H400.60V65.57H401.25V61.87H401.90V59.88H402.55V63.57H403.20V63.51H403.85V63.01H404.50V63.65H405.15V63.30H405.80V62.42H406.45V66.30H407.10V66.35H407.75V70.50H408.40V71.22H409.05V70.54H409.70V72.09H410.35V72.46H411.00V71.99H411.65V72.01H412.30V77.14H412.95V77.79H413.60V77.93H414.25V79.67H414.90V77.55H415.55V77.62H416.20V80.32H416.85V79.64H417.50V76.77H418.15V81.50H418.80V79.79H419.45V81.64H420.10V79.11H420.75V81.74H421.40V82.66H422.05V83.01H422.70V80.62H423.35V84.18H424.00V82.94H424.65V83.92H425.30V83.80H425.95V83.49H426.60V84.34H427.25V83.86H427.90V84.95H428.55V83.67H429.20V84.65H429.85V83.76H430.50V84.50H431.15V83.69H431.80V84.03H432.45V84.37H433.10V84.64H433.75V84.91H434.40V84.22H435.05V84.67H435.70V84.51H436.35V84.70H437.00V84.08H437.65V84.50H438.30V84.37H438.95V84.44H439.60V84.30H440.25V85.00H440.90V84.64H441.55V84.29H442.20V84.53H442.85V84.20H443.50V84.35H444.15V84.35H444.80V84.79H445.45V84.47H446.10V84.28H446.75V84.58H447.40V84.60H448.05V84.46H448.70V84.35H449.35V84.36H450.00V84.30H450.65V84.55H451.30V84.04H451.95V84.97H452.60V84.32H453.25V84.46H453.90V84.50H454.55V84.39H455.20V84.01H455.85V84.39H456.50V84.67H457.15V84.27H457.80V84.32H458.45V84.55H459.10V84.60H459.75V84.34H460.40V84.11H461.05V84.42H461.70V84.42" fill="none" stroke="#000" stroke-width="2.0" stroke-linejoin="miter"/>
<path d="M295.30,131.40H295.95V131.58H296.60V131.25H297.25V131.22H297.90V131.42H298.55V131.47H299.20V131.60H299.85V131.07H300.50V131.90H301.15V131.17H301.80V131.58H302.45V131.34H303.10V131.28H303.75V131.46H304.40V131.40H305.05V131.50H305.70V131.49H306.35V131.16H307.00V131.29H307.65V131.21H308.30V132.08H308.95V130.84H309.60V132.04H310.25V131.30H310.90V130.32H311.55V131.34H312.20V131.23H312.85V131.26H313.50V130.68H314.15V131.27H314.80V130.41H315.45V130.99H316.10V130.52H316.75V130.45H317.40V130.88H318.05V129.86H318.70V130.95H319.35V130.35H320.00V129.76H320.65V130.83H321.30V130.32H321.95V130.57H322.60V130.11H323.25V131.56H323.90V128.84H324.55V129.11H325.20V127.84H325.85V127.65H326.50V129.27H327.15V128.28H327.80V129.79H328.45V130.17H329.10V129.53H329.75V124.69H330.40V127.88H331.05V125.17H331.70V125.91H332.35V126.12H333.00V123.33H333.65V123.34H334.30V123.56H334.95V123.71H335.60V126.97H336.25V121.52H336.90V121.90H337.55V122.60H338.20V121.76H338.85V121.16H339.50V120.78H340.15V121.54H340.80V121.63H341.45V119.32H342.10V121.14H342.75V120.09H343.40V114.59H344.05V118.84H344.70V117.05H345.35V118.39H346.00V117.83H346.65V118.11H347.30V111.66H347.95V114.27H348.60V111.33H349.25V109.86H349.90V110.98H350.55V109.51H351.20V110.64H351.85V114.22H352.50V113.98H353.15V117.39H353.80V112.07H354.45V108.41H355.10V112.21H355.75V110.99H356.40V109.40H357.05V105.37H357.70V108.69H358.35V103.99H359.00V106.17H359.65V103.73H360.30V94.90H360.95V105.00H361.60V100.52H362.25V101.00H362.90V95.00H363.55V94.08H364.20V89.87H364.85V99.76H365.50V92.64H366.15V92.68H366.80V90.67H367.45V87.99H368.10V89.43H368.75V94.93H369.40V91.98H370.05V91.73H370.70V88.54H371.35V92.12H372.00V93.19H372.65V100.35H373.30V97.79H373.95V105.28H374.60V101.54H375.25V100.51H375.90V103.37H376.55V104.11H377.20V110.17H377.85V107.47H378.50V107.96H379.15V103.06H379.80V106.52H380.45V110.92H381.10V109.10H381.75V109.70H382.40V106.14H383.05V110.00H383.70V113.82H384.35V110.30H385.00V114.03H385.65V115.27H386.30V114.98H386.95V116.19H387.60V118.74H388.25V118.80H388.90V116.82H389.55V118.79H390.20V121.26H390.85V120.33H391.50V118.40H392.15V120.24H392.80V120.54H393.45V123.08H394.10V126.13H394.75V120.52H395.40V126.35H396.05V125.31H396.70V122.84H397.35V126.65H398.00V127.08H398.65V126.98H399.30V125.48H399.95V126.22H400.60V127.48H401.25V127.14H401.90V127.86H402.55V125.79H403.20V127.66H403.85V127.19H404.50V130.70H405.15V129.59H405.80V129.81H406.45V130.50H407.10V129.50H407.75V130.83H408.40V131.09H409.05V131.52H409.70V130.99H410.35V131.05H411.00V131.46H411.65V131.73H412.30V130.85H412.95V132.06H413.60V131.93H414.25V131.32H414.90V131.76H415.55V131.34H416.20V130.78H416.85V131.64H417.50V131.55H418.15V131.85H418.80V131.41H419.45V132.05H420.10V131.47H420.75V131.21H421.40V131.80H422.05V131.46H422.70V131.10H423.35V131.61H424.00V131.55H424.65V131.61H425.30V131.48H425.95V131.59H426.60V131.45H427.25V131.38H427.90V131.16H428.55V131.47H429.20V131.30H429.85V131.72H430.50V131.46H431.15V131.39H431.80V131.63H432.45V131.53H433.10V131.66H433.75V131.27H434.40V131.39H435.05V131.74H435.70V131.48H436.35V131.31H437.00V131.64H437.65V131.34H438.30V131.59H438.95V131.41H439.60V131.17H440.25V131.18H440.90V131.76H441.55V131.26H442.20V131.24H442.85V131.18H443.50V131.34H444.15V131.83H444.80V131.21H445.45V131.26H446.10V131.16H446.75V131.35H447.40V131.41H448.05V131.45H448.70V131.27H449.35V131.83H450.00V131.22H450.65V131.53H451.30V131.49H451.95V131.68H452.60V131.56H453.25V131.70H453.90V131.44H454.55V131.32H455.20V131.52H455.85V131.45H456.50V131.64H457.15V131.50H457.80V131.10H458.45V131.66H459.10V131.71H459.75V131.62H460.40V131.45H461.05V131.79H461.70V131.49" fill="none" stroke="#000" stroke-width="2.0" stroke-linejoin="miter"/>
<path d="M295.30,179.29H295.95V179.40H296.60V179.18H297.25V179.24H297.90V178.97H298.55V178.91H299.20V178.77H299.85V179.37H300.50V179.14H301.15V179.40H301.80V179.37H302.45V179.58H303.10V179.07H303.75V178.98H304.40V179.59H305.05V179.06H305.70V178.66H306.35V179.37H307.00V179.64H307.65V179.25H308.30V179.42H308.95V179.47H309.60V179.28H310.25V179.06H310.90V179.03H311.55V178.82H312.20V179.50H312.85V178.73H313.50V178.86H314.15V179.07H314.80V179.10H315.45V179.15H316.10V179.62H316.75V179.80H317.40V179.10H318.05V179.48H318.70V178.13H319.35V179.52H320.00V178.34H320.65V178.34H321.30V178.75H321.95V179.10H322.60V178.72H323.25V178.88H323.90V177.71H324.55V176.96H325.20V178.10H325.85V177.89H326.50V178.70H327.15V178.32H327.80V177.98H328.45V178.02H329.10V179.04H329.75V176.73H330.40V177.57H331.05V175.74H331.70V175.88H332.35V175.87H333.00V175.57H333.65V175.84H334.30V173.55H334.95V175.33H335.60V175.65H336.25V172.88H336.90V173.61H337.55V174.43H338.20V173.59H338.85V175.49H339.50V173.66H340.15V173.50H340.80V175.55H341.45V171.80H342.10V172.22H342.75V170.75H343.40V172.09H344.05V173.82H344.70V172.94H345.35V172.99H346.00V170.28H346.65V173.71H347.30V170.34H347.95V173.76H348.60V168.16H349.25V171.82H349.90V171.46H350.55V169.00H351.20V169.99H351.85V168.49H352.50V166.30H353.15V169.41H353.80V166.66H354.45V162.83H355.10V163.90H355.75V166.47H356.40V170.83H357.05V172.10H357.70V166.08H358.35V163.41H359.00V162.19H359.65V158.30H360.30V160.72H360.95V160.12H361.60V156.31H362.25V157.49H362.90V156.99H363.55V151.88H364.20V153.40H364.85V154.40H365.50V153.82H366.15V148.64H366.80V149.00H367.45V154.69H368.10V148.41H368.75V148.66H369.40V148.08H370.05V147.62H370.70V150.31H371.35V150.99H372.00V151.55H372.65V152.69H373.30V147.43H373.95V146.16H374.60V150.10H375.25V145.75H375.90V148.62H376.55V137.20H377.20V147.68H377.85V147.92H378.50V143.81H379.15V150.17H379.80V149.75H380.45V147.23H381.10V152.22H381.75V152.24H382.40V152.36H383.05V154.47H383.70V150.47H384.35V151.18H385.00V150.66H385.65V151.18H386.30V153.94H386.95V157.38H387.60V156.22H388.25V157.83H388.90V158.59H389.55V159.53H390.20V157.20H390.85V160.28H391.50V155.75H392.15V161.57H392.80V162.86H393.45V162.09H394.10V162.74H394.75V165.12H395.40V163.95H396.05V166.14H396.70V166.73H397.35V162.86H398.00V168.31H398.65V166.80H399.30V167.01H399.95V165.27H400.60V167.32H401.25V171.03H401.90V168.75H402.55V171.99H403.20V170.39H403.85V174.00H404.50V172.63H405.15V172.98H405.80V175.35H406.45V176.05H407.10V174.11H407.75V174.18H408.40V176.59H409.05V178.15H409.70V176.06H410.35V176.95H411.00V177.45H411.65V177.87H412.30V178.22H412.95V178.56H413.60V177.78H414.25V178.21H414.90V178.43H415.55V178.28H416.20V179.80H416.85V178.72H417.50V179.33H418.15V179.38H418.80V178.77H419.45V179.51H420.10V179.08H420.75V179.00H421.40V179.69H422.05V179.67H422.70V179.14H423.35V179.36H424.00V179.10H424.65V179.34H425.30V179.80H425.95V179.67H426.60V179.11H427.25V178.77H427.90V179.35H428.55V179.33H429.20V179.32H429.85V179.52H430.50V179.21H431.15V179.32H431.80V179.48H432.45V179.06H433.10V179.20H433.75V179.02H434.40V179.25H435.05V179.39H435.70V179.59H436.35V179.01H437.00V179.28H437.65V179.37H438.30V179.08H438.95V178.93H439.60V178.76H440.25V178.99H440.90V179.44H441.55V179.51H442.20V179.09H442.85V179.36H443.50V179.25H444.15V179.15H444.80V179.06H445.45V179.25H446.10V179.50H446.75V179.57H447.40V179.31H448.05V179.26H448.70V179.09H449.35V179.19H450.00V178.92H450.65V179.26H451.30V179.22H451.95V179.17H452.60V179.43H453.25V179.08H453.90V178.87H454.55V179.22H455.20V179.17H455.85V179.06H456.50V179.03H457.15V179.14H457.80V179.20H458.45V179.35H459.10V179.16H459.75V179.25H460.40V179.15H461.05V179.26H461.70V179.26" fill="none" stroke="#000" stroke-width="2.0" stroke-linejoin="miter"/>
<path d="M295.30,226.69H295.95V226.96H296.60V227.07H297.25V226.85H297.90V226.87H298.55V226.60H299.20V227.10H299.85V226.81H300.50V226.84H301.15V226.46H301.80V227.15H302.45V226.71H303.10V227.01H303.75V226.72H304.40V226.83H305.05V226.90H305.70V226.15H306.35V226.81H307.00V226.59H307.65V227.13H308.30V226.10H308.95V226.10H309.60V226.07H310.25V227.18H310.90V227.06H311.55V226.56H312.20V226.76H312.85V226.94H313.50V226.19H314.15V227.30H314.80V227.30H315.45V226.57H316.10V226.53H316.75V226.92H317.40V226.69H318.05V226.85H318.70V226.72H319.35V226.24H320.00V226.68H320.65V226.56H321.30V226.21H321.95V225.97H322.60V226.63H323.25V226.40H323.90V226.58H324.55V226.19H325.20V225.47H325.85V226.86H326.50V226.52H327.15V227.30H327.80V225.83H328.45V226.68H329.10V225.61H329.75V225.87H330.40V225.22H331.05V227.04H331.70V225.41H332.35V224.65H333.00V226.16H333.65V225.21H334.30V224.83H334.95V225.48H335.60V226.28H336.25V224.94H336.90V224.79H337.55V223.03H338.20V225.83H338.85V225.99H339.50V224.54H340.15V225.54H340.80V225.58H341.45V224.50H342.10V224.12H342.75V223.94H343.40V223.24H344.05V223.75H344.70V225.01H345.35V220.88H346.00V221.04H346.65V222.13H347.30V223.07H347.95V220.61H348.60V220.67H349.25V219.53H349.90V219.67H350.55V219.33H351.20V222.16H351.85V217.65H352.50V215.24H353.15V215.54H353.80V216.52H354.45V217.14H355.10V216.21H355.75V218.12H356.40V217.10H357.05V212.70H357.70V212.25H358.35V211.28H359.00V210.39H359.65V212.91H360.30V212.39H360.95V212.76H361.60V210.59H362.25V212.23H362.90V211.34H363.55V208.70H364.20V206.62H364.85V208.76H365.50V207.53H366.15V206.34H366.80V206.31H367.45V206.74H368.10V206.17H368.75V200.21H369.40V208.71H370.05V203.67H370.70V202.64H371.35V200.45H372.00V196.68H372.65V199.44H373.30V202.70H373.95V205.64H374.60V201.99H375.25V203.21H375.90V203.27H376.55V203.55H377.20V198.71H377.85V202.48H378.50V203.30H379.15V210.92H379.80V200.51H380.45V202.41H381.10V202.91H381.75V203.43H382.40V197.02H383.05V195.40H383.70V199.90H384.35V200.92H385.00V198.51H385.65V199.67H386.30V196.29H386.95V193.26H387.60V205.74H388.25V204.08H388.90V203.72H389.55V200.53H390.20V198.92H390.85V199.89H391.50V198.35H392.15V196.71H392.80V201.99H393.45V196.39H394.10V199.45H394.75V200.27H395.40V201.77H396.05V193.68H396.70V192.97H397.35V195.86H398.00V194.66H398.65V191.53H399.30V199.37H399.95V200.01H400.60V200.41H401.25V198.71H401.90V202.48H402.55V202.07H403.20V204.16H403.85V208.47H404.50V206.25H405.15V208.24H405.80V209.92H406.45V208.66H407.10V213.46H407.75V211.67H408.40V215.09H409.05V216.52H409.70V216.59H410.35V220.95H411.00V217.23H411.65V219.39H412.30V219.05H412.95V221.51H413.60V220.61H414.25V223.82H414.90V222.77H415.55V223.65H416.20V222.75H416.85V222.50H417.50V222.16H418.15V225.09H418.80V222.49H419.45V221.75H420.10V223.86H420.75V224.61H421.40V223.12H422.05V224.72H422.70V224.73H423.35V224.84H424.00V225.96H424.65V225.46H425.30V225.43H425.95V226.53H426.60V226.79H427.25V226.12H427.90V225.98H428.55V226.32H429.20V227.30H429.85V227.30H430.50V226.98H431.15V227.13H431.80V226.87H432.45V226.67H433.10V227.00H433.75V226.63H434.40V227.13H435.05V226.65H435.70V226.54H436.35V226.32H437.00V226.38H437.65V226.84H438.30V226.68H438.95V226.87H439.60V226.64H440.25V226.84H440.90V226.72H441.55V226.59H442.20V226.61H442.85V226.30H443.50V226.93H444.15V226.62H444.80V227.22H445.45V226.90H446.10V226.99H446.75V227.13H447.40V226.71H448.05V226.59H448.70V226.72H449.35V226.42H450.00V226.83H450.65V226.74H451.30V226.88H451.95V226.99H452.60V226.33H453.25V226.90H453.90V226.76H454.55V226.72H455.20V226.79H455.85V226.74H456.50V226.68H457.15V226.62H457.80V226.69H458.45V226.76H459.10V226.82H459.75V226.80H460.40V226.53H461.05V226.95H461.70V226.71" fill="none" stroke="#000" stroke-width="2.0" stroke-linejoin="miter"/>
<path d="M295.30,273.05H295.95V274.60H296.60V273.47H297.25V272.47H297.90V271.65H298.55V274.17H299.20V272.83H299.85V272.49H300.50V274.60H301.15V270.14H301.80V271.23H302.45V271.40H303.10V272.41H303.75V270.74H304.40V269.30H305.05V269.66H305.70V271.75H306.35V271.66H307.00V272.11H307.65V271.21H308.30V273.03H308.95V269.16H309.60V271.44H310.25V271.93H310.90V267.55H311.55V272.18H312.20V269.45H312.85V271.85H313.50V269.04H314.15V269.27H314.80V270.40H315.45V270.41H316.10V270.87H316.75V268.94H317.40V270.68H318.05V268.25H318.70V266.28H319.35V268.69H320.00V268.80H320.65V267.05H321.30V268.84H321.95V267.23H322.60V264.91H323.25V265.52H323.90V268.04H324.55V266.08H325.20V265.45H325.85V266.74H326.50V265.85H327.15V265.73H327.80V265.83H328.45V266.01H329.10V265.80H329.75V264.21H330.40V263.77H331.05V262.86H331.70V265.29H332.35V262.30H333.00V261.42H333.65V262.33H334.30V263.66H334.95V262.31H335.60V264.30H336.25V262.31H336.90V263.54H337.55V263.78H338.20V262.99H338.85V263.28H339.50V259.96H340.15V262.99H340.80V262.09H341.45V257.67H342.10V259.35H342.75V261.84H343.40V260.42H344.05V263.70H344.70V255.95H345.35V262.52H346.00V260.17H346.65V256.77H347.30V258.08H347.95V256.38H348.60V254.95H349.25V257.09H349.90V251.30H350.55V252.67H351.20V252.34H351.85V250.70H352.50V255.17H353.15V253.68H353.80V252.22H354.45V257.22H355.10V247.54H355.75V252.61H356.40V252.08H357.05V247.75H357.70V247.25H358.35V250.46H359.00V247.64H359.65V242.34H360.30V247.16H360.95V246.57H361.60V247.46H362.25V247.72H362.90V249.04H363.55V248.57H364.20V246.95H364.85V248.43H365.50V243.91H366.15V250.43H366.80V250.13H367.45V245.79H368.10V252.67H368.75V252.42H369.40V248.22H370.05V252.14H370.70V251.09H371.35V253.65H372.00V255.58H372.65V254.85H373.30V254.89H373.95V253.98H374.60V254.19H375.25V255.88H375.90V256.78H376.55V256.50H377.20V259.28H377.85V257.11H378.50V259.95H379.15V256.24H379.80V255.79H380.45V257.96H381.10V258.36H381.75V258.44H382.40V260.25H383.05V258.62H383.70V259.47H384.35V259.72H385.00V255.65H385.65V264.48H386.30V261.25H386.95V261.84H387.60V263.44H388.25V263.95H388.90V263.47H389.55V261.69H390.20V263.79H390.85V262.48H391.50V264.93H392.15V265.85H392.80V262.85H393.45V267.25H394.10V265.24H394.75V263.89H395.40V263.89H396.05V267.36H396.70V269.00H397.35V267.53H398.00V265.37H398.65V269.67H399.30V267.95H399.95V267.73H400.60V265.22H401.25V267.27H401.90V268.21H402.55V268.34H403.20V270.39H403.85V268.30H404.50V270.61H405.15V272.04H405.80V270.00H406.45V271.41H407.10V269.58H407.75V269.79H408.40V270.39H409.05V272.03H409.70V272.57H410.35V273.02H411.00V273.09H411.65V273.93H412.30V274.58H412.95V273.02H413.60V273.82H414.25V273.18H414.90V273.70H415.55V273.43H416.20V273.34H416.85V274.18H417.50V273.91H418.15V273.82H418.80V273.92H419.45V273.76H420.10V273.83H420.75V273.95H421.40V274.01H422.05V273.93H422.70V273.73H423.35V274.00H424.00V274.00H424.65V274.18H425.30V273.79H425.95V273.93H426.60V273.98H427.25V273.98H427.90V274.34H428.55V274.01H429.20V273.94H429.85V273.99H430.50V274.07H431.15V274.19H431.80V273.95H432.45V273.88H433.10V274.18H433.75V273.85H434.40V273.67H435.05V274.29H435.70V274.21H436.35V273.89H437.00V274.12H437.65V274.04H438.30V274.15H438.95V274.08H439.60V273.88H440.25V274.34H440.90V274.03H441.55V273.90H442.20V273.86H442.85V274.18H443.50V273.83H444.15V274.15H444.80V273.70H445.45V274.36H446.10V274.08H446.75V273.98H447.40V274.26H448.05V273.95H448.70V273.94H449.35V274.04H450.00V273.89H450.65V273.96H451.30V273.70H451.95V274.09H452.60V273.77H453.25V273.84H453.90V273.90H454.55V273.89H455.20V273.94H455.85V273.95H456.50V274.09H457.15V273.67H457.80V274.18H458.45V274.04H459.10V274.06H459.75V273.89H460.40V274.18H461.05V274.13H461.70V273.99" fill="none" stroke="#000" stroke-width="2.0" stroke-linejoin="miter"/>
<path d="M295.30,321.59H295.95V321.70H296.60V321.77H297.25V321.76H297.90V321.83H298.55V321.23H299.20V322.29H299.85V321.77H300.50V321.32H301.15V321.69H301.80V321.73H302.45V321.43H303.10V321.48H303.75V321.06H304.40V321.93H305.05V322.00H305.70V321.06H306.35V321.44H307.00V322.00H307.65V321.48H308.30V321.71H308.95V321.87H309.60V321.46H310.25V321.63H310.90V321.05H311.55V321.87H312.20V321.75H312.85V321.71H313.50V321.22H314.15V321.80H314.80V321.07H315.45V321.62H316.10V321.63H316.75V322.19H317.40V321.41H318.05V321.04H318.70V320.74H319.35V320.55H320.00V320.21H320.65V321.09H321.30V320.38H321.95V320.40H322.60V320.01H323.25V320.58H323.90V319.52H324.55V319.52H325.20V320.34H325.85V319.59H326.50V318.27H327.15V319.53H327.80V319.05H328.45V319.99H329.10V319.52H329.75V318.53H330.40V319.02H331.05V316.80H331.70V315.83H332.35V315.83H333.00V314.22H333.65V312.85H334.30V314.38H334.95V313.05H335.60V316.74H336.25V314.78H336.90V314.79H337.55V311.93H338.20V310.42H338.85V310.95H339.50V312.82H340.15V310.44H340.80V312.78H341.45V310.21H342.10V307.81H342.75V308.35H343.40V310.26H344.05V305.68H344.70V309.63H345.35V310.30H346.00V309.37H346.65V307.20H347.30V304.67H347.95V306.24H348.60V307.46H349.25V305.88H349.90V304.50H350.55V302.52H351.20V304.50H351.85V302.08H352.50V299.27H353.15V299.57H353.80V297.46H354.45V299.20H355.10V298.08H355.75V296.30H356.40V300.92H357.05V298.66H357.70V296.63H358.35V296.37H359.00V295.00H359.65V297.68H360.30V294.02H360.95V293.14H361.60V299.28H362.25V293.19H362.90V294.61H363.55V289.87H364.20V287.17H364.85V283.72H365.50V281.03H366.15V284.73H366.80V282.85H367.45V280.46H368.10V287.87H368.75V287.16H369.40V282.79H370.05V283.99H370.70V289.01H371.35V285.02H372.00V283.23H372.65V286.87H373.30V293.08H373.95V296.07H374.60V288.71H375.25V294.12H375.90V298.71H376.55V295.65H377.20V296.19H377.85V291.39H378.50V289.44H379.15V298.79H379.80V294.63H380.45V295.35H381.10V292.04H381.75V298.02H382.40V298.79H383.05V304.85H383.70V300.59H384.35V299.41H385.00V301.34H385.65V302.15H386.30V303.19H386.95V302.02H387.60V304.37H388.25V306.73H388.90V301.80H389.55V307.77H390.20V301.86H390.85V304.51H391.50V307.46H392.15V305.87H392.80V308.56H393.45V306.41H394.10V307.22H394.75V310.88H395.40V309.08H396.05V311.24H396.70V312.46H397.35V312.04H398.00V312.41H398.65V313.12H399.30V310.54H399.95V313.54H400.60V314.49H401.25V315.87H401.90V314.88H402.55V316.93H403.20V318.62H403.85V317.49H404.50V317.48H405.15V319.52H405.80V320.84H406.45V319.84H407.10V319.53H407.75V319.80H408.40V319.66H409.05V319.02H409.70V321.83H410.35V320.32H411.00V320.77H411.65V321.01H412.30V321.76H412.95V321.81H413.60V321.88H414.25V321.57H414.90V321.71H415.55V321.10H416.20V321.77H416.85V321.33H417.50V321.81H418.15V322.30H418.80V320.69H419.45V321.79H420.10V321.90H420.75V321.50H421.40V321.19H422.05V321.17H422.70V321.71H423.35V321.53H424.00V321.92H424.65V321.79H425.30V322.12H425.95V321.21H426.60V321.60H427.25V321.81H427.90V321.77H428.55V321.65H429.20V321.65H429.85V322.30H430.50V321.45H431.15V321.46H431.80V322.30H432.45V321.68H433.10V322.27H433.75V321.62H434.40V321.44H435.05V322.10H435.70V322.17H436.35V321.05H437.00V321.89H437.65V321.60H438.30V321.99H438.95V322.13H439.60V321.70H440.25V322.02H440.90V321.92H441.55V321.85H442.20V322.08H442.85V321.67H443.50V322.03H444.15V321.64H444.80V321.53H445.45V321.35H446.10V322.30H446.75V322.09H447.40V321.68H448.05V321.37H448.70V322.30H449.35V321.77H450.00V321.64H450.65V321.77H451.30V321.93H451.95V321.85H452.60V321.80H453.25V321.77H453.90V321.28H454.55V321.29H455.20V321.50H455.85V321.48H456.50V321.79H457.15V321.71H457.80V321.76H458.45V321.66H459.10V321.57H459.75V321.34H460.40V321.65H461.05V321.94H461.70V321.72" fill="none" stroke="#000" stroke-width="2.0" stroke-linejoin="miter"/>
<path d="M295.30,369.78H295.95V369.57H296.60V369.35H297.25V369.51H297.90V369.52H298.55V369.56H299.20V369.85H299.85V369.78H300.50V369.98H301.15V369.48H301.80V369.80H302.45V369.45H303.10V369.42H303.75V369.07H304.40V369.45H305.05V369.72H305.70V369.57H306.35V369.69H307.00V369.27H307.65V370.01H308.30V369.64H308.95V369.41H309.60V370.02H310.25V370.04H310.90V369.55H311.55V369.19H312.20V369.15H312.85V369.68H313.50V369.34H314.15V369.90H314.80V370.20H315.45V369.37H316.10V369.72H316.75V369.66H317.40V368.41H318.05V370.20H318.70V369.37H319.35V369.57H320.00V368.54H320.65V368.21H321.30V369.45H321.95V369.71H322.60V369.11H323.25V368.67H323.90V368.62H324.55V367.88H325.20V367.61H325.85V367.41H326.50V367.47H327.15V368.42H327.80V365.25H328.45V367.52H329.10V365.35H329.75V365.19H330.40V365.44H331.05V364.51H331.70V366.42H332.35V364.31H333.00V366.37H333.65V364.77H334.30V362.31H334.95V365.59H335.60V363.84H336.25V365.67H336.90V364.06H337.55V363.13H338.20V362.26H338.85V364.76H339.50V360.69H340.15V362.95H340.80V362.62H341.45V361.29H342.10V364.18H342.75V363.93H343.40V364.23H344.05V361.20H344.70V364.96H345.35V362.45H346.00V360.19H346.65V360.42H347.30V361.00H347.95V358.04H348.60V362.79H349.25V360.19H349.90V360.58H350.55V358.33H351.20V357.22H351.85V356.76H352.50V357.85H353.15V353.90H353.80V357.37H354.45V355.19H355.10V357.17H355.75V360.51H356.40V356.20H357.05V360.64H357.70V356.17H358.35V354.53H359.00V354.93H359.65V348.52H360.30V349.07H360.95V348.36H361.60V344.36H362.25V348.49H362.90V348.10H363.55V346.26H364.20V347.98H364.85V347.99H365.50V348.04H366.15V350.55H366.80V345.01H367.45V344.98H368.10V345.47H368.75V340.03H369.40V343.86H370.05V336.45H370.70V341.66H371.35V335.88H372.00V342.66H372.65V338.20H373.30V339.59H373.95V336.64H374.60V338.58H375.25V340.56H375.90V342.60H376.55V339.18H377.20V335.71H377.85V341.92H378.50V339.90H379.15V340.56H379.80V342.08H380.45V346.34H381.10V340.50H381.75V345.17H382.40V343.22H383.05V343.93H383.70V346.27H384.35V347.45H385.00V343.76H385.65V339.57H386.30V345.88H386.95V342.85H387.60V346.97H388.25V347.94H388.90V348.53H389.55V347.60H390.20V346.66H390.85V352.62H391.50V351.90H392.15V349.99H392.80V347.91H393.45V348.70H394.10V351.60H394.75V349.84H395.40V350.33H396.05V349.80H396.70V348.60H397.35V353.90H398.00V354.46H398.65V351.76H399.30V355.83H399.95V355.64H400.60V353.04H401.25V353.91H401.90V357.19H402.55V359.64H403.20V357.86H403.85V358.68H404.50V360.10H405.15V361.64H405.80V360.11H406.45V362.87H407.10V363.58H407.75V362.96H408.40V363.34H409.05V365.81H409.70V365.38H410.35V362.92H411.00V366.62H411.65V367.43H412.30V367.68H412.95V369.37H413.60V368.27H414.25V367.99H414.90V369.60H415.55V367.88H416.20V369.90H416.85V369.05H417.50V368.49H418.15V368.84H418.80V368.44H419.45V369.20H420.10V370.20H420.75V370.20H421.40V369.75H422.05V369.85H422.70V369.83H423.35V369.56H424.00V369.68H424.65V369.58H425.30V369.29H425.95V369.54H426.60V369.79H427.25V369.87H427.90V369.43H428.55V369.95H429.20V369.72H429.85V369.68H430.50V369.60H431.15V369.45H431.80V368.96H432.45V369.37H433.10V369.32H433.75V370.03H434.40V369.35H435.05V369.94H435.70V369.79H436.35V369.61H437.00V369.52H437.65V369.75H438.30V369.40H438.95V369.28H439.60V369.43H440.25V369.43H440.90V369.61H441.55V369.45H442.20V369.96H442.85V369.52H443.50V369.48H444.15V369.98H444.80V370.00H445.45V369.88H446.10V369.34H446.75V369.54H447.40V369.46H448.05V369.52H448.70V369.72H449.35V369.66H450.00V369.40H450.65V369.52H451.30V369.96H451.95V369.48H452.60V369.74H453.25V369.85H453.90V369.60H454.55V369.68H455.20V369.56H455.85V369.73H456.50V369.73H457.15V369.67H457.80V369.50H458.45V369.76H459.10V369.54H459.75V369.63H460.40V369.61H461.05V369.51H461.70V369.70" fill="none" stroke="#000" stroke-width="2.0" stroke-linejoin="miter"/>
<path d="M295.30,349.97H295.95V348.61H296.60V343.58H297.25V339.39H297.90V334.95H298.55V331.99H299.20V337.41H299.85V334.97H300.50V319.18H301.15V327.47H301.80V318.74H302.45V319.50H303.10V326.34H303.75V324.28H304.40V320.14H305.05V308.27H305.70V308.47H306.35V304.46H307.00V311.94H307.65V303.60H308.30V299.87H308.95V303.04H309.60V310.60H310.25V314.31H310.90V317.24H311.55V317.96H312.20V328.25H312.85V334.35H313.50V331.48H314.15V342.13H314.80V353.54H315.45V359.86H316.10V355.17H316.75V364.32H317.40V368.86H318.05V371.77H318.70V374.54H319.35V375.20H320.00V381.18H320.65V386.37H321.30V393.60H321.95V397.86H322.60V401.42H323.25V403.25H323.90V405.34H324.55V410.18H325.20V409.66H325.85V410.25H326.50V412.24H327.15V413.35H327.80V413.72H328.45V413.79H329.10V414.93H329.75V415.81H330.40V416.95H331.05V417.92H331.70V416.95H332.35V417.32H333.00V417.49H333.65V417.35H334.30V417.60H334.95V417.59H335.60V417.52H336.25V417.21H336.90V417.26H337.55V417.26H338.20V417.33H338.85V417.35H339.50V417.30" fill="none" stroke="#000" stroke-width="2.3" stroke-linejoin="miter"/>
<path d="M295.30,410.87H295.95V404.75H296.60V394.65H297.25V392.37H297.90V382.84H298.55V382.66H299.20V380.82H299.85V384.74H300.50V383.53H301.15V388.07H301.80V383.88H302.45V380.44H303.10V376.94H303.75V377.52H304.40V373.19H305.05V379.71H305.70V377.03H306.35V378.87H307.00V371.54H307.65V381.69H308.30V381.88H308.95V387.06H309.60V386.47H310.25V379.77H310.90V385.56H311.55V381.87H312.20V391.52H312.85V398.26H313.50V400.72H314.15V400.49H314.80V402.75H315.45V409.93H316.10V415.71H316.75V424.49H317.40V427.34H318.05V433.36H318.70V440.53H319.35V440.90H320.00V444.61H320.65V447.49H321.30V449.34H321.95V452.41H322.60V452.64H323.25V454.00H323.90V455.28H324.55V457.90H325.20V460.15H325.85V459.09H326.50V460.94H327.15V462.16H327.80V462.34H328.45V462.77H329.10V463.13H329.75V463.22H330.40V463.89H331.05V464.07H331.70V463.57H332.35V463.55H333.00V463.99H333.65V463.67H334.30V464.09H334.95V464.25H335.60V463.93H336.25V464.23H336.90V463.98H337.55V463.71H338.20V464.11H338.85V463.99H339.50V464.05" fill="none" stroke="#000" stroke-width="2.3" stroke-linejoin="miter"/>
<line x1="3.3" y1="517.4" x2="149.0" y2="517.4" stroke="#000" stroke-width="1.3"/>
<line x1="3.3" y1="517.0" x2="3.3" y2="726.6" stroke="#000" stroke-width="1.5"/>
<line x1="149.0" y1="517.0" x2="149.0" y2="726.2" stroke="#333" stroke-width="0.9"/>
<line x1="26.8" y1="517.4" x2="26.8" y2="726.0" stroke="#333" stroke-width="0.9"/>
<line x1="51.0" y1="517.4" x2="51.0" y2="726.0" stroke="#333" stroke-width="0.9"/>
<line x1="75.8" y1="517.4" x2="75.8" y2="726.0" stroke="#333" stroke-width="0.9"/>
<line x1="100.4" y1="517.4" x2="100.4" y2="726.0" stroke="#333" stroke-width="0.9"/>
<line x1="125.4" y1="517.4" x2="125.4" y2="726.0" stroke="#333" stroke-width="0.9"/>
<line x1="3.3" y1="564.2" x2="155.3" y2="564.2" stroke="#555" stroke-width="0.9"/>
<line x1="3.3" y1="618.0" x2="155.3" y2="618.0" stroke="#555" stroke-width="0.9"/>
<line x1="3.3" y1="671.6" x2="155.3" y2="671.6" stroke="#555" stroke-width="0.9"/>
<line x1="3.3" y1="725.9" x2="155.3" y2="725.9" stroke="#555" stroke-width="0.9"/>
<line x1="5.4" y1="733.6" x2="142" y2="733.6" stroke="#000" stroke-width="1.2"/>
<polygon points="147,733.6 140.5,730.8 140.5,736.4" fill="#000"/>
<path d="M3.30,562.99H3.90V562.14H4.50V562.40H5.10V562.84H5.70V563.50H6.30V561.77H6.90V561.90H7.50V562.71H8.10V561.89H8.70V561.90H9.30V563.00H9.90V562.60H10.50V562.07H11.10V562.59H11.70V562.27H12.30V562.04H12.90V561.10H13.50V562.71H14.10V561.79H14.70V561.97H15.30V561.18H15.90V562.17H16.50V562.31H17.10V562.57H17.70V561.61H18.30V561.84H18.90V560.71H19.50V559.75H20.10V561.67H20.70V560.49H21.30V560.98H21.90V560.25H22.50V561.05H23.10V561.57H23.70V559.68H24.30V560.81H24.90V559.58H25.50V560.74H26.10V559.59H26.70V560.10H27.30V558.31H27.90V559.47H28.50V559.74H29.10V558.91H29.70V556.10H30.30V557.80H30.90V559.01H31.50V556.59H32.10V556.42H32.70V556.25H33.30V557.28H33.90V555.37H34.50V555.26H35.10V556.56H35.70V552.22H36.30V552.97H36.90V552.34H37.50V553.49H38.10V551.99H38.70V551.44H39.30V549.25H39.90V550.55H40.50V550.86H41.10V548.98H41.70V550.72H42.30V552.73H42.90V552.22H43.50V549.41H44.10V548.69H44.70V547.31H45.30V547.69H45.90V545.63H46.50V546.66H47.10V545.53H47.70V543.73H48.30V541.32H48.90V539.96H49.50V537.56H50.10V535.24H50.70V537.87H51.30V537.94H51.90V534.94H52.50V533.24H53.10V534.41H53.70V534.01H54.30V533.36H54.90V530.85H55.50V536.33H56.10V537.30H56.70V535.25H57.30V533.86H57.90V531.90H58.50V535.66H59.10V531.32H59.70V530.17H60.30V529.74H60.90V530.98H61.50V531.40H62.10V532.00H62.70V535.71H63.30V534.56H63.90V534.15H64.50V534.92H65.10V539.98H65.70V535.72H66.30V540.26H66.90V536.77H67.50V540.38H68.10V539.21H68.70V536.41H69.30V537.51H69.90V536.24H70.50V540.79H71.10V542.61H71.70V541.47H72.30V542.53H72.90V545.44H73.50V543.94H74.10V543.61H74.70V539.01H75.30V541.38H75.90V539.04H76.50V544.84H77.10V542.16H77.70V542.78H78.30V542.02H78.90V542.81H79.50V542.70H80.10V544.62H80.70V544.01H81.30V541.41H81.90V544.09H82.50V547.45H83.10V546.53H83.70V545.27H84.30V543.26H84.90V545.54H85.50V544.50H86.10V546.44H86.70V544.70H87.30V547.77H87.90V548.69H88.50V549.13H89.10V549.18H89.70V546.75H90.30V550.31H90.90V548.92H91.50V553.70H92.10V552.99H92.70V549.22H93.30V551.76H93.90V551.01H94.50V551.54H95.10V554.41H95.70V552.05H96.30V552.43H96.90V554.00H97.50V554.59H98.10V555.35H98.70V556.32H99.30V555.33H99.90V556.72H100.50V556.13H101.10V555.92H101.70V556.87H102.30V556.23H102.90V557.77H103.50V557.74H104.10V556.95H104.70V557.23H105.30V559.22H105.90V556.61H106.50V559.93H107.10V559.25H107.70V560.29H108.30V558.18H108.90V559.64H109.50V559.71H110.10V561.28H110.70V559.74H111.30V560.63H111.90V561.67H112.50V561.59H113.10V561.35H113.70V561.27H114.30V561.72H114.90V562.43H115.50V563.12H116.10V562.51H116.70V563.50H117.30V563.50H117.90V562.21H118.50V563.31H119.10V562.91H119.70V562.98H120.30V563.78H120.90V564.25H121.50V563.54H122.10V563.74H122.70V563.79H123.30V563.60H123.90V563.86H124.50V563.75H125.10V563.92H125.70V564.07H126.30V563.91H126.90V563.65H127.50V563.81H128.10V563.95H128.70V563.81H129.30V564.00H129.90V563.70H130.50V563.86H131.10V563.86H131.70V563.79H132.30V564.18H132.90V563.57H133.50V564.11H134.10V563.93H134.70V564.17H135.30V563.93H135.90V563.92H136.50V564.34H137.10V563.91H137.70V563.89H138.30V564.03H138.90V563.97H139.50V563.94H140.10V563.89H140.70V564.06H141.30V564.07H141.90V563.97H142.50V564.08H143.10V564.12H143.70V563.53H144.30V564.01H144.90V564.01H145.50V563.96H146.10V563.77H146.70V563.95H147.30V563.84H147.90V563.85H148.50V563.94H149.10V564.16H149.70V564.05H150.30V563.92H150.90V564.00H151.50V563.88H152.10V563.98H152.70V564.23H153.30V563.95H153.90V563.94H154.50V564.18H155.10V564.00" fill="none" stroke="#000" stroke-width="1.4" stroke-linejoin="miter"/>
<path d="M3.30,617.43H3.90V617.64H4.50V617.54H5.10V617.53H5.70V617.74H6.30V617.74H6.90V617.85H7.50V617.47H8.10V617.45H8.70V617.81H9.30V617.88H9.90V616.84H10.50V617.06H11.10V617.16H11.70V617.26H12.30V616.71H12.90V617.37H13.50V617.05H14.10V617.47H14.70V616.89H15.30V617.22H15.90V616.30H16.50V615.69H17.10V616.60H17.70V616.49H18.30V614.30H18.90V616.05H19.50V614.53H20.10V615.67H20.70V615.23H21.30V615.51H21.90V616.17H22.50V615.68H23.10V614.63H23.70V614.78H24.30V615.98H24.90V614.54H25.50V615.12H26.10V613.40H26.70V616.07H27.30V613.76H27.90V612.91H28.50V612.96H29.10V613.03H29.70V611.48H30.30V611.57H30.90V612.58H31.50V610.89H32.10V612.23H32.70V611.29H33.30V611.27H33.90V611.20H34.50V611.33H35.10V610.25H35.70V609.44H36.30V609.41H36.90V607.46H37.50V608.20H38.10V609.53H38.70V608.17H39.30V608.33H39.90V605.94H40.50V605.93H41.10V606.10H41.70V604.76H42.30V603.68H42.90V602.39H43.50V601.62H44.10V600.52H44.70V600.33H45.30V598.52H45.90V599.25H46.50V597.72H47.10V596.94H47.70V596.60H48.30V596.87H48.90V593.65H49.50V593.48H50.10V594.49H50.70V587.84H51.30V591.33H51.90V592.14H52.50V589.05H53.10V590.74H53.70V590.56H54.30V587.57H54.90V591.52H55.50V586.68H56.10V591.21H56.70V587.63H57.30V590.06H57.90V582.71H58.50V595.07H59.10V587.92H59.70V589.77H60.30V588.20H60.90V591.16H61.50V587.51H62.10V587.35H62.70V591.41H63.30V592.45H63.90V594.97H64.50V595.12H65.10V596.88H65.70V591.32H66.30V594.71H66.90V590.13H67.50V597.11H68.10V596.97H68.70V593.26H69.30V595.68H69.90V597.23H70.50V596.31H71.10V595.28H71.70V597.63H72.30V594.39H72.90V595.39H73.50V599.75H74.10V596.03H74.70V594.54H75.30V599.19H75.90V595.47H76.50V594.66H77.10V594.73H77.70V594.13H78.30V592.37H78.90V592.25H79.50V589.71H80.10V591.72H80.70V593.11H81.30V592.13H81.90V592.29H82.50V595.29H83.10V598.24H83.70V594.53H84.30V594.49H84.90V597.43H85.50V597.35H86.10V597.75H86.70V599.23H87.30V595.17H87.90V595.05H88.50V595.34H89.10V598.56H89.70V599.09H90.30V598.07H90.90V597.49H91.50V597.58H92.10V597.28H92.70V600.04H93.30V602.08H93.90V600.51H94.50V602.20H95.10V603.14H95.70V600.92H96.30V603.52H96.90V606.61H97.50V603.64H98.10V604.02H98.70V607.34H99.30V605.10H99.90V606.18H100.50V607.08H101.10V607.01H101.70V606.93H102.30V608.66H102.90V606.73H103.50V607.96H104.10V610.51H104.70V609.21H105.30V610.03H105.90V612.76H106.50V609.81H107.10V609.26H107.70V611.04H108.30V611.75H108.90V609.94H109.50V612.73H110.10V609.72H110.70V610.91H111.30V611.35H111.90V611.89H112.50V610.06H113.10V611.27H113.70V612.20H114.30V613.13H114.90V613.82H115.50V614.44H116.10V614.37H116.70V615.52H117.30V614.70H117.90V614.63H118.50V614.99H119.10V613.71H119.70V615.75H120.30V616.44H120.90V614.61H121.50V615.29H122.10V615.40H122.70V615.52H123.30V616.48H123.90V616.92H124.50V616.54H125.10V615.44H125.70V617.37H126.30V616.69H126.90V617.44H127.50V617.01H128.10V617.42H128.70V617.84H129.30V617.19H129.90V617.31H130.50V617.54H131.10V617.69H131.70V617.74H132.30V617.34H132.90V617.54H133.50V617.54H134.10V617.77H134.70V617.66H135.30V617.68H135.90V617.73H136.50V617.86H137.10V617.80H137.70V617.69H138.30V617.86H138.90V617.61H139.50V618.02H140.10V617.93H140.70V617.97H141.30V617.74H141.90V617.76H142.50V617.70H143.10V617.89H143.70V617.66H144.30V617.86H144.90V617.91H145.50V617.70H146.10V617.82H146.70V617.83H147.30V617.89H147.90V617.85H148.50V617.55H149.10V617.78H149.70V617.79H150.30V617.91H150.90V617.96H151.50V617.88H152.10V617.90H152.70V617.65H153.30V618.07H153.90V617.56H154.50V617.90H155.10V617.79" fill="none" stroke="#000" stroke-width="1.4" stroke-linejoin="miter"/>
<path d="M3.30,671.32H3.90V671.29H4.50V671.23H5.10V671.13H5.70V671.20H6.30V670.98H6.90V671.22H7.50V670.95H8.10V671.20H8.70V671.26H9.30V671.19H9.90V671.24H10.50V671.29H11.10V671.41H11.70V671.30H12.30V671.43H12.90V671.19H13.50V671.19H14.10V671.29H14.70V671.36H15.30V671.24H15.90V671.18H16.50V671.30H17.10V670.54H17.70V670.88H18.30V670.92H18.90V671.39H19.50V671.32H20.10V671.48H20.70V671.23H21.30V671.52H21.90V671.03H22.50V671.01H23.10V671.22H23.70V670.99H24.30V671.01H24.90V671.28H25.50V670.73H26.10V670.29H26.70V670.63H27.30V671.06H27.90V671.21H28.50V670.87H29.10V670.66H29.70V670.76H30.30V670.67H30.90V671.23H31.50V670.48H32.10V671.63H32.70V671.02H33.30V670.36H33.90V671.44H34.50V670.71H35.10V670.18H35.70V670.72H36.30V670.33H36.90V670.41H37.50V671.03H38.10V671.52H38.70V670.29H39.30V670.36H39.90V669.67H40.50V669.43H41.10V669.39H41.70V669.79H42.30V670.33H42.90V670.29H43.50V670.17H44.10V669.84H44.70V670.32H45.30V668.92H45.90V669.93H46.50V669.29H47.10V670.01H47.70V669.52H48.30V669.83H48.90V670.48H49.50V670.04H50.10V669.93H50.70V670.34H51.30V668.74H51.90V670.20H52.50V670.54H53.10V669.93H53.70V670.58H54.30V669.57H54.90V670.28H55.50V669.54H56.10V670.27H56.70V669.76H57.30V669.73H57.90V670.61H58.50V668.94H59.10V668.74H59.70V669.40H60.30V670.14H60.90V668.66H61.50V669.59H62.10V670.33H62.70V669.97H63.30V668.59H63.90V668.12H64.50V669.39H65.10V669.07H65.70V668.72H66.30V669.25H66.90V670.21H67.50V670.14H68.10V669.74H68.70V669.55H69.30V668.29H69.90V667.58H70.50V668.69H71.10V668.91H71.70V667.24H72.30V667.21H72.90V666.48H73.50V667.28H74.10V667.55H74.70V667.92H75.30V667.08H75.90V666.65H76.50V663.84H77.10V665.02H77.70V664.58H78.30V663.30H78.90V665.63H79.50V665.53H80.10V665.59H80.70V665.62H81.30V661.88H81.90V663.54H82.50V662.47H83.10V660.78H83.70V662.99H84.30V662.50H84.90V659.66H85.50V659.30H86.10V659.70H86.70V658.66H87.30V656.35H87.90V654.88H88.50V654.02H89.10V653.82H89.70V652.05H90.30V651.84H90.90V648.92H91.50V652.55H92.10V651.38H92.70V650.46H93.30V649.46H93.90V650.72H94.50V648.58H95.10V648.75H95.70V646.42H96.30V646.57H96.90V645.25H97.50V646.39H98.10V643.78H98.70V644.46H99.30V645.06H99.90V638.29H100.50V639.74H101.10V639.42H101.70V639.87H102.30V640.88H102.90V641.44H103.50V641.89H104.10V639.34H104.70V643.53H105.30V639.07H105.90V639.66H106.50V640.31H107.10V640.26H107.70V637.29H108.30V637.35H108.90V636.53H109.50V634.61H110.10V634.77H110.70V634.96H111.30V634.64H111.90V637.21H112.50V634.28H113.10V632.19H113.70V636.93H114.30V633.76H114.90V630.81H115.50V636.56H116.10V632.24H116.70V633.73H117.30V635.34H117.90V631.95H118.50V632.73H119.10V631.17H119.70V633.05H120.30V631.80H120.90V632.00H121.50V632.84H122.10V636.45H122.70V640.44H123.30V643.26H123.90V647.12H124.50V641.81H125.10V643.22H125.70V645.59H126.30V644.55H126.90V649.42H127.50V646.10H128.10V649.93H128.70V651.15H129.30V649.88H129.90V653.94H130.50V654.54H131.10V657.72H131.70V658.20H132.30V658.78H132.90V658.74H133.50V657.79H134.10V662.65H134.70V662.76H135.30V662.65H135.90V662.39H136.50V663.16H137.10V663.88H137.70V663.00H138.30V665.77H138.90V664.63H139.50V666.85H140.10V666.29H140.70V667.63H141.30V667.22H141.90V666.77H142.50V668.28H143.10V669.56H143.70V670.03H144.30V669.46H144.90V669.87H145.50V670.20H146.10V670.44H146.70V670.53H147.30V670.77H147.90V670.31H148.50V671.12H149.10V670.99H149.70V671.31H150.30V671.27H150.90V671.08H151.50V671.42H152.10V671.51H152.70V671.48H153.30V671.56H153.90V671.39H154.50V671.55H155.10V671.47" fill="none" stroke="#000" stroke-width="1.4" stroke-linejoin="miter"/>
<path d="M3.30,698.95 L3.80,699.38 L4.30,701.17 L4.80,702.95 L5.30,704.90 L5.80,705.59 L6.30,706.76 L6.80,706.97 L7.30,707.35 L7.80,707.36 L8.30,708.58 L8.80,707.58 L9.30,709.23 L9.80,707.68 L10.30,708.35 L10.80,708.80 L11.30,709.93 L11.80,709.99 L12.30,708.83 L12.80,708.84 L13.30,707.63 L13.80,708.62 L14.30,707.81 L14.80,707.16 L15.30,707.04 L15.80,706.32 L16.30,706.45 L16.80,705.47 L17.30,706.33 L17.80,705.58 L18.30,702.28 L18.80,703.98 L19.30,704.63 L19.80,705.17 L20.30,703.96 L20.80,702.61 L21.30,703.30 L21.80,703.18 L22.30,701.50 L22.80,702.05 L23.30,701.90 L23.80,701.12 L24.30,697.65 L24.80,700.68 L25.30,698.47 L25.80,698.66 L26.30,698.62 L26.80,698.46 L27.30,696.37 L27.80,697.11 L28.30,693.96 L28.80,693.25 L29.30,692.43 L29.80,692.20 L30.30,692.26 L30.80,692.22 L31.30,693.19 L31.80,692.95 L32.30,692.51 L32.80,694.03 L33.30,693.11 L33.80,694.45 L34.30,693.02 L34.80,694.05 L35.30,690.08 L35.80,688.81 L36.30,686.82 L36.80,688.70 L37.30,683.25 L37.80,684.45 L38.30,683.33 L38.80,685.29 L39.30,686.97 L39.80,687.89 L40.30,688.34 L40.80,687.68 L41.30,691.25 L41.80,691.70 L42.30,692.66 L42.80,693.89 L43.30,694.99 L43.80,693.83 L44.30,694.54 L44.80,692.76 L45.30,694.05 L45.80,694.12 L46.30,696.49 L46.80,699.47 L47.30,699.36 L47.80,699.63 L48.30,701.86 L48.80,705.69 L49.30,707.19 L49.80,707.90 L50.30,708.83 L50.80,710.08 L51.30,710.60 L51.80,712.19 L52.30,713.15 L52.80,714.33 L53.30,715.07 L53.80,715.50 L54.30,715.44 L54.80,716.70 L55.30,718.15 L55.80,717.26 L56.30,718.93 L56.80,719.32 L57.30,720.41 L57.80,720.99 L58.30,722.83 L58.80,721.93 L59.30,723.76 L59.80,724.32 L60.30,724.04 L60.80,725.42 L61.30,725.51 L61.80,725.60 L62.30,725.68 L62.80,726.20 L63.30,725.59 L63.80,725.71 L64.30,726.10 L64.80,726.00 L65.30,726.06 L65.80,726.28" fill="none" stroke="#111" stroke-width="1.2" stroke-linejoin="round"/>
<rect x="299.5" y="543.4" width="217.79999999999995" height="177.10000000000002" fill="none" stroke="#8a8a8a" stroke-width="1"/>
<line x1="296.5" y1="720.5" x2="299.5" y2="720.5" stroke="#999" stroke-width="0.8"/>
<line x1="296.5" y1="700.82" x2="299.5" y2="700.82" stroke="#999" stroke-width="0.8"/>
<line x1="296.5" y1="681.14" x2="299.5" y2="681.14" stroke="#999" stroke-width="0.8"/>
<line x1="296.5" y1="661.47" x2="299.5" y2="661.47" stroke="#999" stroke-width="0.8"/>
<line x1="296.5" y1="641.79" x2="299.5" y2="641.79" stroke="#999" stroke-width="0.8"/>
<line x1="296.5" y1="622.11" x2="299.5" y2="622.11" stroke="#999" stroke-width="0.8"/>
<line x1="296.5" y1="602.43" x2="299.5" y2="602.43" stroke="#999" stroke-width="0.8"/>
<line x1="296.5" y1="582.76" x2="299.5" y2="582.76" stroke="#999" stroke-width="0.8"/>
<line x1="296.5" y1="563.08" x2="299.5" y2="563.08" stroke="#999" stroke-width="0.8"/>
<line x1="296.5" y1="543.4" x2="299.5" y2="543.4" stroke="#999" stroke-width="0.8"/>
<line x1="299.5" y1="720.5" x2="299.5" y2="723.5" stroke="#999" stroke-width="0.8"/>
<line x1="353.95" y1="720.5" x2="353.95" y2="723.5" stroke="#999" stroke-width="0.8"/>
<line x1="408.4" y1="720.5" x2="408.4" y2="723.5" stroke="#999" stroke-width="0.8"/>
<line x1="462.85" y1="720.5" x2="462.85" y2="723.5" stroke="#999" stroke-width="0.8"/>
<line x1="517.3" y1="720.5" x2="517.3" y2="723.5" stroke="#999" stroke-width="0.8"/>
<rect x="310.60" y="622.11" width="15.6" height="98.39" fill="#fff" stroke="#333" stroke-width="1"/>
<rect x="326.20" y="622.11" width="15.6" height="98.39" fill="#7f7f7f" stroke="#333" stroke-width="1"/>
<line x1="373.2" y1="556.68" x2="373.2" y2="578.03" stroke="#555" stroke-width="1.0"/>
<line x1="371.7" y1="556.68" x2="374.7" y2="556.68" stroke="#555" stroke-width="1.0"/>
<rect x="365.40" y="578.03" width="15.6" height="142.47" fill="#fff" stroke="#333" stroke-width="1"/>
<line x1="388.8" y1="563.47" x2="388.8" y2="582.36" stroke="#555" stroke-width="1.0"/>
<line x1="387.3" y1="563.47" x2="390.3" y2="563.47" stroke="#555" stroke-width="1.0"/>
<rect x="381.00" y="582.36" width="15.6" height="138.14" fill="#7f7f7f" stroke="#333" stroke-width="1"/>
<line x1="427.6" y1="684.1" x2="427.6" y2="693.25" stroke="#555" stroke-width="1.0"/>
<line x1="426.1" y1="684.1" x2="429.1" y2="684.1" stroke="#555" stroke-width="1.0"/>
<rect x="419.80" y="693.25" width="15.6" height="27.25" fill="#fff" stroke="#333" stroke-width="1"/>
<line x1="443.2" y1="661.17" x2="443.2" y2="671.5" stroke="#555" stroke-width="1.0"/>
<line x1="441.7" y1="661.17" x2="444.7" y2="661.17" stroke="#555" stroke-width="1.0"/>
<rect x="435.40" y="671.50" width="15.6" height="49.00" fill="#7f7f7f" stroke="#333" stroke-width="1"/>
<line x1="482.4" y1="665.21" x2="482.4" y2="685.97" stroke="#555" stroke-width="1.0"/>
<line x1="480.9" y1="665.21" x2="483.9" y2="665.21" stroke="#555" stroke-width="1.0"/>
<rect x="474.60" y="685.97" width="15.6" height="34.53" fill="#fff" stroke="#333" stroke-width="1"/>
<line x1="498.0" y1="639.53" x2="498.0" y2="646.41" stroke="#555" stroke-width="1.0"/>
<line x1="496.5" y1="639.53" x2="499.5" y2="639.53" stroke="#555" stroke-width="1.0"/>
<rect x="490.20" y="646.41" width="15.6" height="74.09" fill="#7f7f7f" stroke="#333" stroke-width="1"/>
<rect x="458.5" y="551" width="8" height="9.5" fill="#fff" stroke="#333" stroke-width="1"/>
<rect x="458.5" y="568" width="8" height="9.5" fill="#7f7f7f" stroke="#333" stroke-width="1"/>
<g font-family='"Liberation Sans", sans-serif' fill="#000" stroke="#000" stroke-width="0.22">
<text x="1.6" y="17.6" font-size="19.5" text-anchor="start" font-weight="bold" >A</text>
<text x="1.4" y="512.4" font-size="19.5" text-anchor="start" font-weight="bold" >B</text>
<text x="240.6" y="518.2" font-size="19.5" text-anchor="start" font-weight="bold" >C</text>
<text x="17.8" y="66.8" font-size="12.5" text-anchor="middle" font-weight="normal" >26</text>
<text x="17.8" y="112.6" font-size="12.5" text-anchor="middle" font-weight="normal" >79</text>
<text x="17.8" y="158.4" font-size="12.5" text-anchor="middle" font-weight="normal" >113</text>
<text x="17.8" y="204.6" font-size="12.5" text-anchor="middle" font-weight="normal" >38</text>
<text x="17.8" y="249.5" font-size="12.5" text-anchor="middle" font-weight="normal" >196</text>
<text x="17.8" y="295.6" font-size="12.5" text-anchor="middle" font-weight="normal" >75</text>
<text x="17.8" y="341" font-size="12.5" text-anchor="middle" font-weight="normal" >127</text>
<text x="17.8" y="387" font-size="12.5" text-anchor="middle" font-weight="normal" >187</text>
<text x="441.2" y="67.1" font-size="12.5" text-anchor="middle" font-weight="normal" >98</text>
<text x="441.2" y="104" font-size="12.5" text-anchor="middle" font-weight="normal" >40</text>
<text x="441.2" y="151.1" font-size="12.5" text-anchor="middle" font-weight="normal" >57</text>
<text x="441.2" y="197.5" font-size="12.5" text-anchor="middle" font-weight="normal" >94</text>
<text x="441.2" y="242" font-size="12.5" text-anchor="middle" font-weight="normal" >30</text>
<text x="441.2" y="291.1" font-size="12.5" text-anchor="middle" font-weight="normal" >44</text>
<text x="441.2" y="338.7" font-size="12.5" text-anchor="middle" font-weight="normal" >58</text>
<text x="441.2" y="386.9" font-size="12.5" text-anchor="middle" font-weight="normal" >2</text>
<text x="174.6" y="33.8" font-size="12.5" text-anchor="start" font-weight="normal" letter-spacing="0.18">+IFNβ1</text>
<text x="466.9" y="33.8" font-size="12.5" text-anchor="start" font-weight="normal" letter-spacing="0.18">+IFNβ1</text>
<text x="174.6" y="49.0" font-size="12.5" text-anchor="start" font-weight="normal" letter-spacing="0.18">+IL-12</text>
<text x="466.9" y="49.0" font-size="12.5" text-anchor="start" font-weight="normal" letter-spacing="0.18">+IL-12</text>
<text x="174.6" y="64.2" font-size="12.5" text-anchor="start" font-weight="normal" letter-spacing="0.18">+IFNγ</text>
<text x="466.9" y="64.2" font-size="12.5" text-anchor="start" font-weight="normal" letter-spacing="0.18">+IFNγ</text>
<text x="174.6" y="104.0" font-size="12.5" text-anchor="start" font-weight="normal" letter-spacing="0.18">+IFNβ1</text>
<text x="466.9" y="104.0" font-size="12.5" text-anchor="start" font-weight="normal" letter-spacing="0.18">+IFNβ1</text>
<text x="174.6" y="119.2" font-size="12.5" text-anchor="start" font-weight="normal" letter-spacing="0.18">+IFNγ</text>
<text x="466.9" y="119.2" font-size="12.5" text-anchor="start" font-weight="normal" letter-spacing="0.18">+IFNγ</text>
<text x="174.6" y="151.9" font-size="12.5" text-anchor="start" font-weight="normal" letter-spacing="0.18">+IL-12</text>
<text x="466.9" y="151.9" font-size="12.5" text-anchor="start" font-weight="normal" letter-spacing="0.18">+IL-12</text>
<text x="174.6" y="167.2" font-size="12.5" text-anchor="start" font-weight="normal" letter-spacing="0.18">+IFNγ</text>
<text x="466.9" y="167.2" font-size="12.5" text-anchor="start" font-weight="normal" letter-spacing="0.18">+IFNγ</text>
<text x="174.6" y="202.8" font-size="12.5" text-anchor="start" font-weight="normal" letter-spacing="0.18">+IFNβ1</text>
<text x="466.9" y="202.8" font-size="12.5" text-anchor="start" font-weight="normal" letter-spacing="0.18">+IFNβ1</text>
<text x="174.6" y="218.6" font-size="12.5" text-anchor="start" font-weight="normal" letter-spacing="0.18">+IL-12</text>
<text x="466.9" y="218.6" font-size="12.5" text-anchor="start" font-weight="normal" letter-spacing="0.18">+IL-12</text>
<text x="174.6" y="263.6" font-size="12.5" text-anchor="start" font-weight="normal" letter-spacing="0.18">+IFNγ</text>
<text x="466.9" y="263.6" font-size="12.5" text-anchor="start" font-weight="normal" letter-spacing="0.18">+IFNγ</text>
<text x="174.6" y="308.0" font-size="12.5" text-anchor="start" font-weight="normal" letter-spacing="0.18">+IFNβ1</text>
<text x="466.9" y="308.0" font-size="12.5" text-anchor="start" font-weight="normal" letter-spacing="0.18">+IFNβ1</text>
<text x="174.6" y="354.5" font-size="12.5" text-anchor="start" font-weight="normal" letter-spacing="0.18">+IL-12</text>
<text x="466.9" y="354.5" font-size="12.5" text-anchor="start" font-weight="normal" letter-spacing="0.18">+IL-12</text>
<text x="175.4" y="396.8" font-size="12.5" text-anchor="start" font-weight="normal" >NT</text>
<text x="467.2" y="397.0" font-size="12.5" text-anchor="start" font-weight="normal" >NT</text>
<text x="75.5" y="489.4" font-size="13" text-anchor="middle" font-weight="normal" >NKG2D</text>
<text x="382.3" y="489.3" font-size="13" text-anchor="middle" font-weight="normal" >CD69</text>
<text x="25.6" y="534.9" font-size="12.5" text-anchor="end" font-weight="normal" >20</text>
<text x="25.6" y="584.0" font-size="12.5" text-anchor="end" font-weight="normal" >22</text>
<text x="25.6" y="638.2" font-size="12.5" text-anchor="end" font-weight="normal" >136</text>
<text x="156.5" y="526.8" font-size="12.5" text-anchor="start" font-weight="normal" letter-spacing="0.18">+IL-12</text>
<text x="156.5" y="542.7" font-size="12.5" text-anchor="start" font-weight="normal" letter-spacing="0.18">+IFNβ1</text>
<text x="156.5" y="558.5" font-size="12.5" text-anchor="start" font-weight="normal" letter-spacing="0.18">+a-IFNγ</text>
<text x="156.5" y="590.7" font-size="12.5" text-anchor="start" font-weight="normal" letter-spacing="0.18">+IL-12</text>
<text x="156.5" y="606.8" font-size="12.5" text-anchor="start" font-weight="normal" letter-spacing="0.18">+IFNβ1</text>
<text x="158.2" y="648.0" font-size="12.5" text-anchor="start" font-weight="normal" >NT</text>
<text x="67" y="750.8" font-size="13" text-anchor="middle" font-weight="normal" >NKG2D</text>
<text x="282.6" y="723.5" font-size="11.6" text-anchor="middle" font-weight="normal" letter-spacing="0.15">0</text>
<text x="282.6" y="704.4" font-size="11.6" text-anchor="middle" font-weight="normal" letter-spacing="0.15">0,2</text>
<text x="282.6" y="685.3" font-size="11.6" text-anchor="middle" font-weight="normal" letter-spacing="0.15">0,4</text>
<text x="282.6" y="666.2" font-size="11.6" text-anchor="middle" font-weight="normal" letter-spacing="0.15">0,6</text>
<text x="282.6" y="647.1" font-size="11.6" text-anchor="middle" font-weight="normal" letter-spacing="0.15">0,8</text>
<text x="282.6" y="628.0" font-size="11.6" text-anchor="middle" font-weight="normal" letter-spacing="0.15">1</text>
<text x="282.6" y="608.9" font-size="11.6" text-anchor="middle" font-weight="normal" letter-spacing="0.15">1,2</text>
<text x="282.6" y="589.8" font-size="11.6" text-anchor="middle" font-weight="normal" letter-spacing="0.15">1,4</text>
<text x="282.6" y="570.7" font-size="11.6" text-anchor="middle" font-weight="normal" letter-spacing="0.15">1,6</text>
<text x="282.6" y="551.6" font-size="11.6" text-anchor="middle" font-weight="normal" letter-spacing="0.15">1,8</text>
<text x="468.0" y="560.3" font-size="12.5" text-anchor="start" font-weight="normal" letter-spacing="0.7">NKG2D</text>
<text x="469.6" y="577.8" font-size="12.5" text-anchor="start" font-weight="normal" letter-spacing="0.45">DAP10</text>
<text x="325.3" y="740.4" font-size="12.0" text-anchor="middle" font-weight="normal" letter-spacing="0.5">Mock</text>
<text x="382.5" y="740.4" font-size="12.0" text-anchor="middle" font-weight="normal" letter-spacing="0.5">IFNβ1</text>
<text x="438" y="740.4" font-size="12.0" text-anchor="middle" font-weight="normal" letter-spacing="0.5">IL-12</text>
<text x="477.8" y="740.4" font-size="12.0" text-anchor="start" font-weight="normal" letter-spacing="0.3">IFNβ1</text>
<text x="477.8" y="755.6" font-size="12.0" text-anchor="start" font-weight="normal" letter-spacing="0.5">IL-12</text>
<text transform="translate(253.0,625.1) rotate(-90)" font-size="12.3" letter-spacing="0.45" text-anchor="middle">mRNA /GAPDH</text>
<text transform="translate(265.7,625.1) rotate(-90)" font-size="12.0" letter-spacing="0.45" text-anchor="middle">(fold change)</text>
</g>
<rect x="8.33" y="156.57" width="2.58" height="2.73" fill="#fff"/>
<rect x="12.14" y="156.57" width="2.48" height="2.73" fill="#fff"/>
<rect x="14.35" y="156.57" width="2.58" height="2.73" fill="#fff"/>
<rect x="18.15" y="156.57" width="2.48" height="2.73" fill="#fff"/>
<rect x="7.87" y="247.67" width="2.58" height="2.73" fill="#fff"/>
<rect x="11.68" y="247.67" width="2.48" height="2.73" fill="#fff"/>
<rect x="7.87" y="339.17" width="2.58" height="2.73" fill="#fff"/>
<rect x="11.68" y="339.17" width="2.48" height="2.73" fill="#fff"/>
<rect x="7.87" y="385.17" width="2.58" height="2.73" fill="#fff"/>
<rect x="11.68" y="385.17" width="2.48" height="2.73" fill="#fff"/>
<rect x="210.62" y="31.97" width="2.58" height="2.73" fill="#fff"/>
<rect x="214.42" y="31.97" width="2.48" height="2.73" fill="#fff"/>
<rect x="502.92" y="31.97" width="2.58" height="2.73" fill="#fff"/>
<rect x="506.72" y="31.97" width="2.48" height="2.73" fill="#fff"/>
<rect x="197.70" y="47.17" width="2.58" height="2.73" fill="#fff"/>
<rect x="201.50" y="47.17" width="2.48" height="2.73" fill="#fff"/>
<rect x="490.00" y="47.17" width="2.58" height="2.73" fill="#fff"/>
<rect x="493.80" y="47.17" width="2.48" height="2.73" fill="#fff"/>
<rect x="210.62" y="102.17" width="2.58" height="2.73" fill="#fff"/>
<rect x="214.42" y="102.17" width="2.48" height="2.73" fill="#fff"/>
<rect x="502.92" y="102.17" width="2.58" height="2.73" fill="#fff"/>
<rect x="506.72" y="102.17" width="2.48" height="2.73" fill="#fff"/>
<rect x="197.70" y="150.07" width="2.58" height="2.73" fill="#fff"/>
<rect x="201.50" y="150.07" width="2.48" height="2.73" fill="#fff"/>
<rect x="490.00" y="150.07" width="2.58" height="2.73" fill="#fff"/>
<rect x="493.80" y="150.07" width="2.48" height="2.73" fill="#fff"/>
<rect x="210.62" y="200.97" width="2.58" height="2.73" fill="#fff"/>
<rect x="214.42" y="200.97" width="2.48" height="2.73" fill="#fff"/>
<rect x="502.92" y="200.97" width="2.58" height="2.73" fill="#fff"/>
<rect x="506.72" y="200.97" width="2.48" height="2.73" fill="#fff"/>
<rect x="197.70" y="216.77" width="2.58" height="2.73" fill="#fff"/>
<rect x="201.50" y="216.77" width="2.48" height="2.73" fill="#fff"/>
<rect x="490.00" y="216.77" width="2.58" height="2.73" fill="#fff"/>
<rect x="493.80" y="216.77" width="2.48" height="2.73" fill="#fff"/>
<rect x="210.62" y="306.17" width="2.58" height="2.73" fill="#fff"/>
<rect x="214.42" y="306.17" width="2.48" height="2.73" fill="#fff"/>
<rect x="502.92" y="306.17" width="2.58" height="2.73" fill="#fff"/>
<rect x="506.72" y="306.17" width="2.48" height="2.73" fill="#fff"/>
<rect x="197.70" y="352.67" width="2.58" height="2.73" fill="#fff"/>
<rect x="201.50" y="352.67" width="2.48" height="2.73" fill="#fff"/>
<rect x="490.00" y="352.67" width="2.58" height="2.73" fill="#fff"/>
<rect x="493.80" y="352.67" width="2.48" height="2.73" fill="#fff"/>
<rect x="5.24" y="636.37" width="2.58" height="2.73" fill="#fff"/>
<rect x="9.05" y="636.37" width="2.48" height="2.73" fill="#fff"/>
<rect x="179.60" y="524.97" width="2.58" height="2.73" fill="#fff"/>
<rect x="183.40" y="524.97" width="2.48" height="2.73" fill="#fff"/>
<rect x="192.52" y="540.87" width="2.58" height="2.73" fill="#fff"/>
<rect x="196.32" y="540.87" width="2.48" height="2.73" fill="#fff"/>
<rect x="179.60" y="588.87" width="2.58" height="2.73" fill="#fff"/>
<rect x="183.40" y="588.87" width="2.48" height="2.73" fill="#fff"/>
<rect x="192.52" y="604.97" width="2.58" height="2.73" fill="#fff"/>
<rect x="196.32" y="604.97" width="2.48" height="2.73" fill="#fff"/>
<rect x="279.73" y="626.23" width="2.42" height="2.67" fill="#fff"/>
<rect x="283.30" y="626.23" width="2.33" height="2.67" fill="#fff"/>
<rect x="274.74" y="607.13" width="2.42" height="2.67" fill="#fff"/>
<rect x="278.31" y="607.13" width="2.33" height="2.67" fill="#fff"/>
<rect x="274.74" y="588.03" width="2.42" height="2.67" fill="#fff"/>
<rect x="278.31" y="588.03" width="2.33" height="2.67" fill="#fff"/>
<rect x="274.74" y="568.93" width="2.42" height="2.67" fill="#fff"/>
<rect x="278.31" y="568.93" width="2.33" height="2.67" fill="#fff"/>
<rect x="274.74" y="549.83" width="2.42" height="2.67" fill="#fff"/>
<rect x="278.31" y="549.83" width="2.33" height="2.67" fill="#fff"/>
<rect x="497.15" y="575.97" width="2.58" height="2.73" fill="#fff"/>
<rect x="500.95" y="575.97" width="2.48" height="2.73" fill="#fff"/>
<rect x="393.48" y="738.60" width="2.49" height="2.70" fill="#fff"/>
<rect x="397.15" y="738.60" width="2.40" height="2.70" fill="#fff"/>
<rect x="439.03" y="738.60" width="2.49" height="2.70" fill="#fff"/>
<rect x="442.71" y="738.60" width="2.40" height="2.70" fill="#fff"/>
<rect x="505.69" y="738.60" width="2.49" height="2.70" fill="#fff"/>
<rect x="509.36" y="738.60" width="2.40" height="2.70" fill="#fff"/>
<rect x="493.76" y="753.80" width="2.49" height="2.70" fill="#fff"/>
<rect x="497.44" y="753.80" width="2.40" height="2.70" fill="#fff"/>
</svg>
</body></html>
